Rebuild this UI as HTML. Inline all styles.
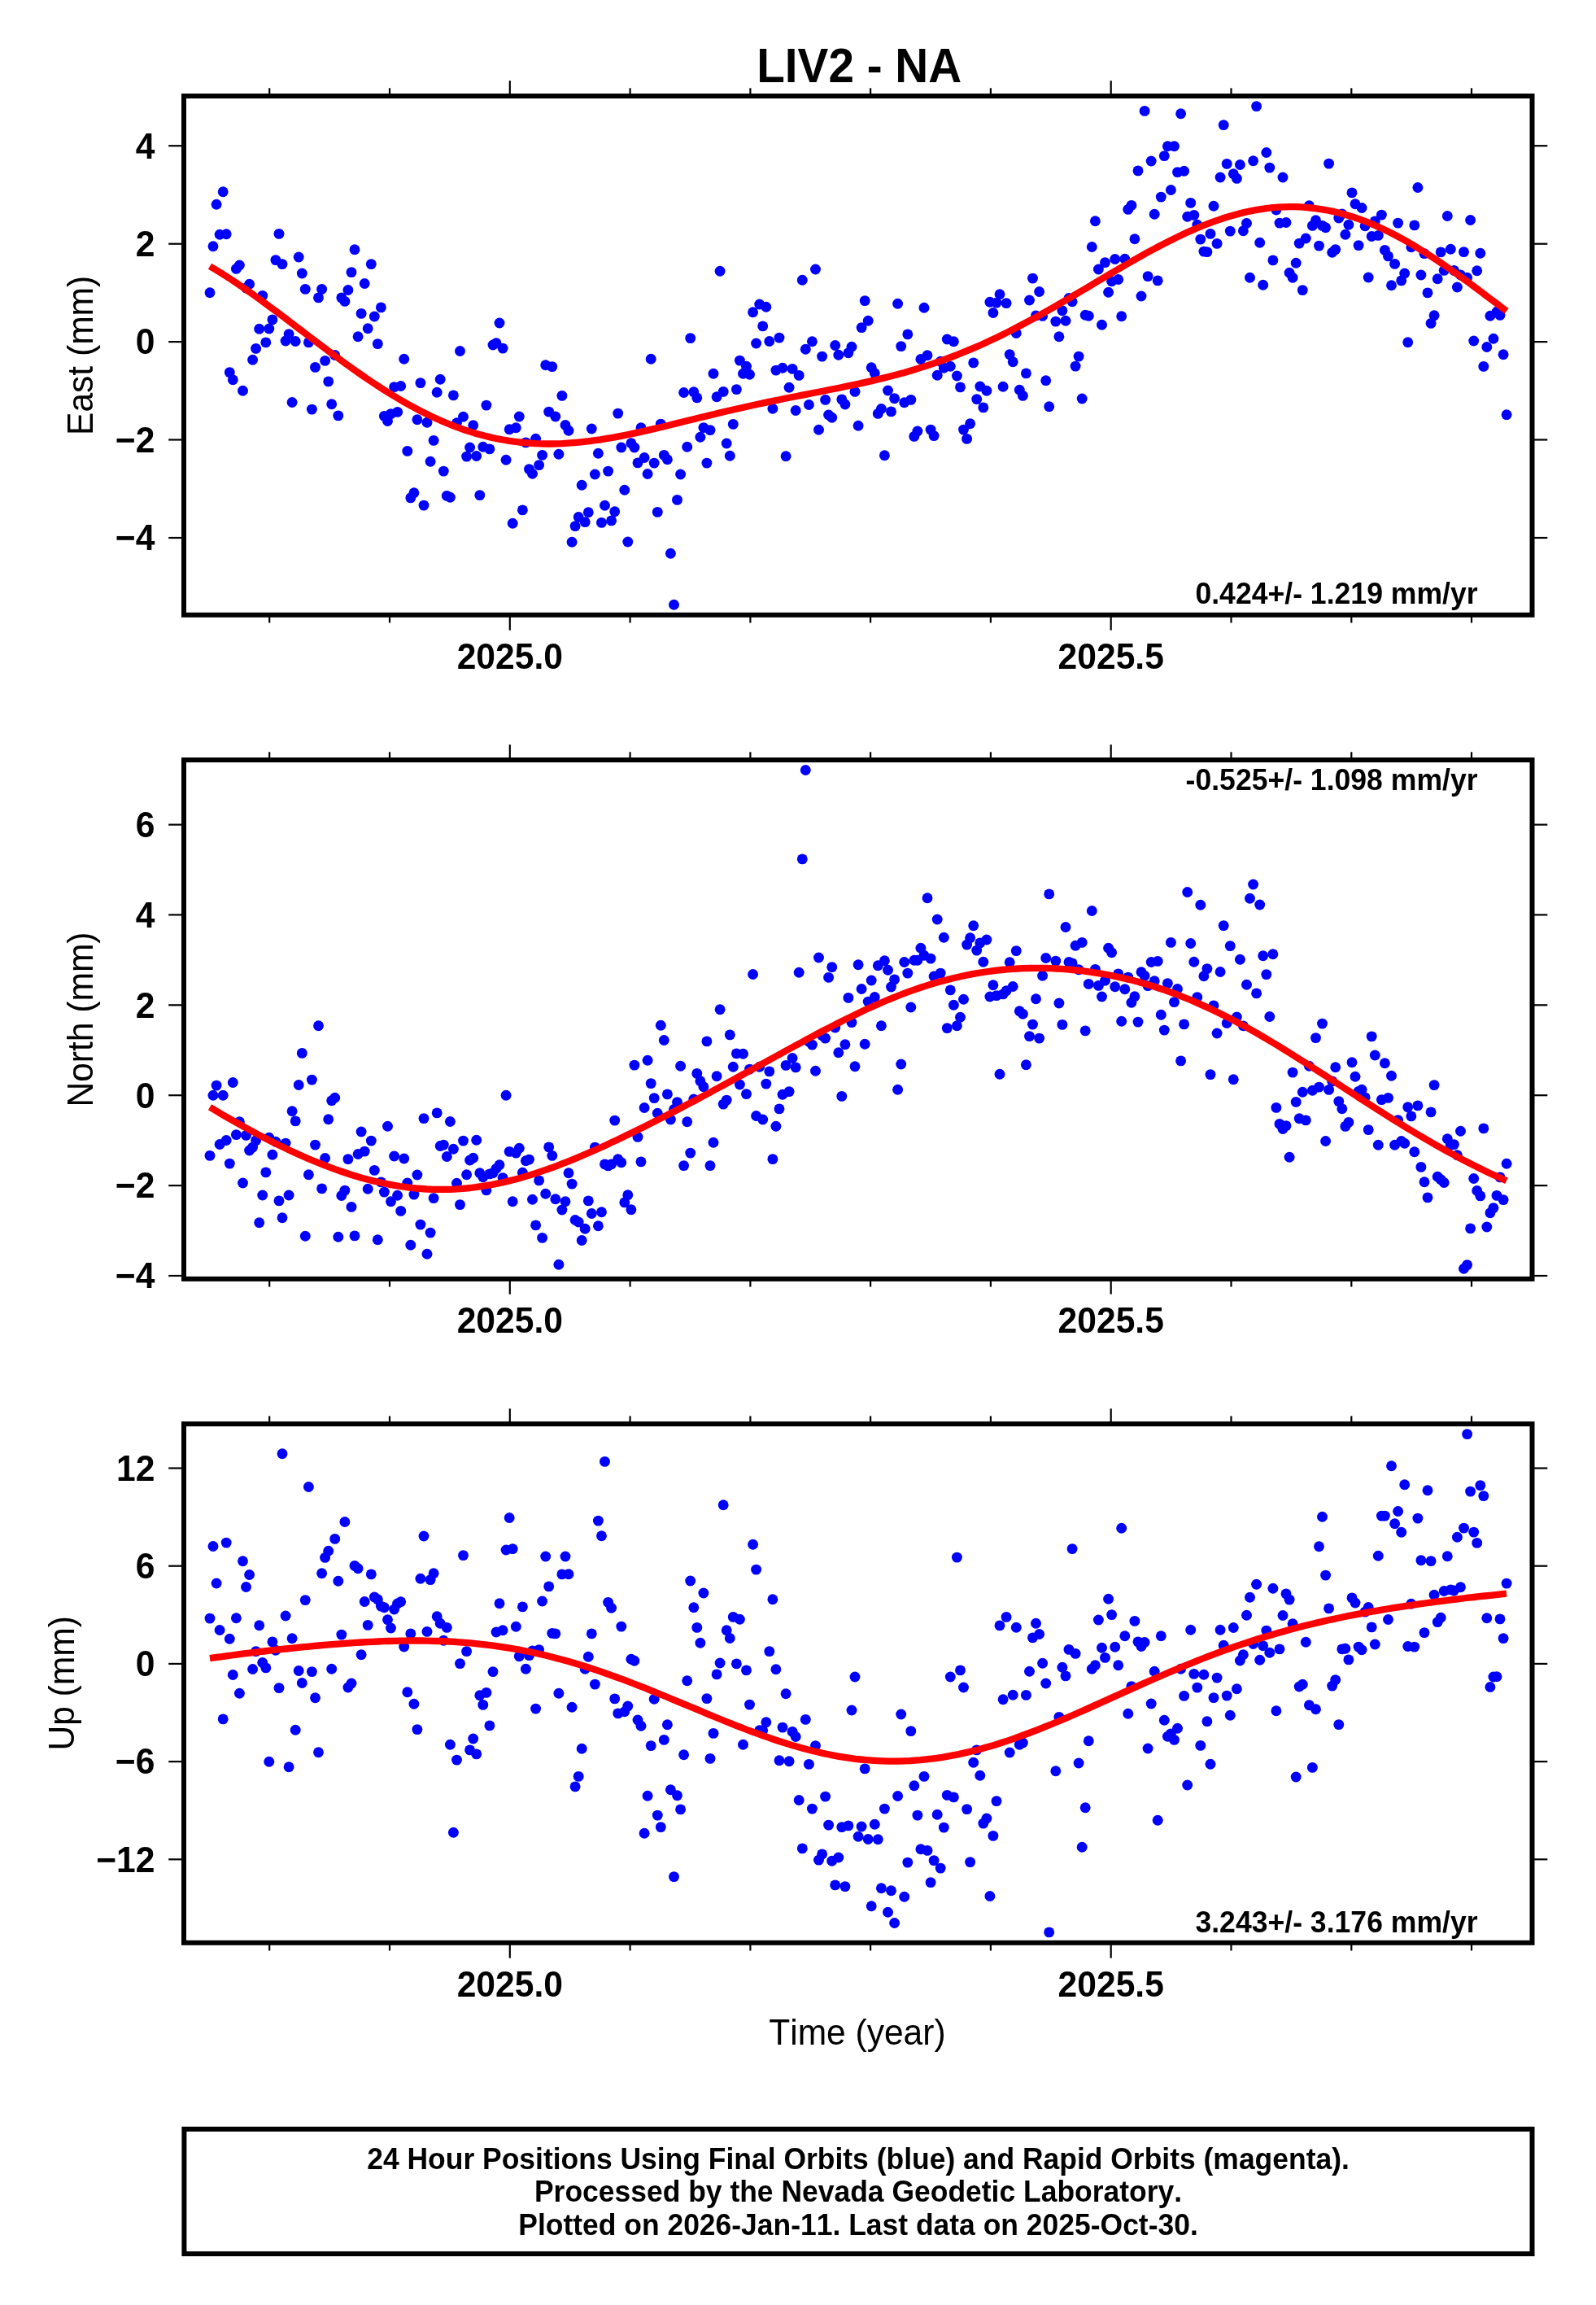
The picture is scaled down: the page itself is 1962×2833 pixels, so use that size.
<!DOCTYPE html>
<html lang="en"><head><meta charset="utf-8"><title>LIV2 - NA</title>
<style>html,body{margin:0;padding:0;background:#fff}svg{display:block;will-change:transform}text{font-family:"Liberation Sans",Arial,Helvetica,sans-serif;font-kerning:none;font-variant-ligatures:none;fill:#000}</style></head>
<body>
<svg width="1962" height="2833" viewBox="0 0 1962 2833" role="img" aria-label="LIV2 - NA time series">
<rect width="1962" height="2833" fill="#fff"/>
<text transform="translate(1056.2,101.4) scale(1,1.045)"  font-weight="bold" font-size="56.7" text-anchor="middle">LIV2 - NA</text>
<g id="panel1">
<g fill="#0000ff">
<circle cx="258.0" cy="359.8" r="6.45"/>
<circle cx="262.0" cy="302.7" r="6.45"/>
<circle cx="266.1" cy="251.3" r="6.45"/>
<circle cx="270.1" cy="288.2" r="6.45"/>
<circle cx="274.2" cy="235.8" r="6.45"/>
<circle cx="278.2" cy="287.7" r="6.45"/>
<circle cx="282.3" cy="457.6" r="6.45"/>
<circle cx="286.3" cy="466.7" r="6.45"/>
<circle cx="290.4" cy="330.4" r="6.45"/>
<circle cx="294.4" cy="326.0" r="6.45"/>
<circle cx="298.5" cy="480.3" r="6.45"/>
<circle cx="302.5" cy="354.0" r="6.45"/>
<circle cx="306.6" cy="349.3" r="6.45"/>
<circle cx="310.6" cy="442.3" r="6.45"/>
<circle cx="314.6" cy="428.4" r="6.45"/>
<circle cx="318.7" cy="404.3" r="6.45"/>
<circle cx="322.7" cy="363.4" r="6.45"/>
<circle cx="326.8" cy="420.9" r="6.45"/>
<circle cx="330.8" cy="404.0" r="6.45"/>
<circle cx="334.9" cy="392.9" r="6.45"/>
<circle cx="338.9" cy="319.6" r="6.45"/>
<circle cx="343.0" cy="287.4" r="6.45"/>
<circle cx="347.0" cy="324.6" r="6.45"/>
<circle cx="351.1" cy="419.0" r="6.45"/>
<circle cx="355.1" cy="410.6" r="6.45"/>
<circle cx="359.1" cy="494.5" r="6.45"/>
<circle cx="363.2" cy="419.5" r="6.45"/>
<circle cx="367.2" cy="316.0" r="6.45"/>
<circle cx="371.3" cy="336.0" r="6.45"/>
<circle cx="375.3" cy="355.4" r="6.45"/>
<circle cx="379.4" cy="420.9" r="6.45"/>
<circle cx="383.4" cy="503.1" r="6.45"/>
<circle cx="387.5" cy="451.4" r="6.45"/>
<circle cx="391.5" cy="365.9" r="6.45"/>
<circle cx="395.6" cy="355.4" r="6.45"/>
<circle cx="399.6" cy="443.4" r="6.45"/>
<circle cx="403.7" cy="468.9" r="6.45"/>
<circle cx="407.7" cy="496.7" r="6.45"/>
<circle cx="411.7" cy="436.5" r="6.45"/>
<circle cx="415.8" cy="510.9" r="6.45"/>
<circle cx="419.8" cy="365.9" r="6.45"/>
<circle cx="423.9" cy="370.4" r="6.45"/>
<circle cx="427.9" cy="356.5" r="6.45"/>
<circle cx="432.0" cy="334.6" r="6.45"/>
<circle cx="436.0" cy="306.8" r="6.45"/>
<circle cx="440.1" cy="413.7" r="6.45"/>
<circle cx="444.1" cy="385.4" r="6.45"/>
<circle cx="448.2" cy="348.5" r="6.45"/>
<circle cx="452.2" cy="403.7" r="6.45"/>
<circle cx="456.3" cy="324.6" r="6.45"/>
<circle cx="460.3" cy="389.0" r="6.45"/>
<circle cx="464.3" cy="422.6" r="6.45"/>
<circle cx="468.4" cy="377.9" r="6.45"/>
<circle cx="472.4" cy="511.4" r="6.45"/>
<circle cx="476.5" cy="517.5" r="6.45"/>
<circle cx="480.5" cy="508.6" r="6.45"/>
<circle cx="484.6" cy="475.6" r="6.45"/>
<circle cx="488.6" cy="506.4" r="6.45"/>
<circle cx="492.7" cy="474.5" r="6.45"/>
<circle cx="496.7" cy="441.2" r="6.45"/>
<circle cx="500.8" cy="554.4" r="6.45"/>
<circle cx="504.8" cy="611.9" r="6.45"/>
<circle cx="508.9" cy="605.8" r="6.45"/>
<circle cx="512.9" cy="515.8" r="6.45"/>
<circle cx="516.9" cy="470.6" r="6.45"/>
<circle cx="521.0" cy="621.1" r="6.45"/>
<circle cx="525.0" cy="519.2" r="6.45"/>
<circle cx="529.1" cy="567.2" r="6.45"/>
<circle cx="533.1" cy="541.4" r="6.45"/>
<circle cx="537.2" cy="482.3" r="6.45"/>
<circle cx="541.2" cy="466.2" r="6.45"/>
<circle cx="545.3" cy="579.1" r="6.45"/>
<circle cx="549.3" cy="609.4" r="6.45"/>
<circle cx="553.4" cy="611.3" r="6.45"/>
<circle cx="557.4" cy="485.9" r="6.45"/>
<circle cx="561.5" cy="519.7" r="6.45"/>
<circle cx="565.5" cy="431.5" r="6.45"/>
<circle cx="569.5" cy="512.2" r="6.45"/>
<circle cx="573.6" cy="561.1" r="6.45"/>
<circle cx="577.6" cy="550.0" r="6.45"/>
<circle cx="581.7" cy="522.8" r="6.45"/>
<circle cx="585.7" cy="560.5" r="6.45"/>
<circle cx="589.8" cy="608.6" r="6.45"/>
<circle cx="593.8" cy="549.2" r="6.45"/>
<circle cx="597.9" cy="498.1" r="6.45"/>
<circle cx="601.9" cy="551.9" r="6.45"/>
<circle cx="606.0" cy="424.0" r="6.45"/>
<circle cx="610.0" cy="421.7" r="6.45"/>
<circle cx="614.0" cy="397.0" r="6.45"/>
<circle cx="618.1" cy="428.1" r="6.45"/>
<circle cx="622.1" cy="565.3" r="6.45"/>
<circle cx="626.2" cy="527.8" r="6.45"/>
<circle cx="630.2" cy="643.3" r="6.45"/>
<circle cx="634.3" cy="525.8" r="6.45"/>
<circle cx="638.3" cy="512.0" r="6.45"/>
<circle cx="642.4" cy="626.9" r="6.45"/>
<circle cx="646.4" cy="543.9" r="6.45"/>
<circle cx="650.5" cy="576.6" r="6.45"/>
<circle cx="654.5" cy="582.2" r="6.45"/>
<circle cx="658.6" cy="539.2" r="6.45"/>
<circle cx="662.6" cy="571.6" r="6.45"/>
<circle cx="666.6" cy="559.4" r="6.45"/>
<circle cx="670.7" cy="448.7" r="6.45"/>
<circle cx="674.7" cy="506.1" r="6.45"/>
<circle cx="678.8" cy="450.6" r="6.45"/>
<circle cx="682.8" cy="512.0" r="6.45"/>
<circle cx="686.9" cy="558.3" r="6.45"/>
<circle cx="690.9" cy="486.4" r="6.45"/>
<circle cx="695.0" cy="522.5" r="6.45"/>
<circle cx="699.0" cy="529.2" r="6.45"/>
<circle cx="703.1" cy="666.3" r="6.45"/>
<circle cx="707.1" cy="646.6" r="6.45"/>
<circle cx="711.2" cy="635.5" r="6.45"/>
<circle cx="715.2" cy="596.3" r="6.45"/>
<circle cx="719.2" cy="641.6" r="6.45"/>
<circle cx="723.3" cy="629.7" r="6.45"/>
<circle cx="727.3" cy="527.0" r="6.45"/>
<circle cx="731.4" cy="583.0" r="6.45"/>
<circle cx="735.4" cy="557.2" r="6.45"/>
<circle cx="739.5" cy="642.4" r="6.45"/>
<circle cx="743.5" cy="621.3" r="6.45"/>
<circle cx="747.6" cy="579.1" r="6.45"/>
<circle cx="751.6" cy="639.9" r="6.45"/>
<circle cx="755.7" cy="628.8" r="6.45"/>
<circle cx="759.7" cy="508.1" r="6.45"/>
<circle cx="763.8" cy="550.0" r="6.45"/>
<circle cx="767.8" cy="602.2" r="6.45"/>
<circle cx="771.8" cy="666.0" r="6.45"/>
<circle cx="775.9" cy="544.7" r="6.45"/>
<circle cx="779.9" cy="550.0" r="6.45"/>
<circle cx="784.0" cy="568.9" r="6.45"/>
<circle cx="788.0" cy="525.8" r="6.45"/>
<circle cx="792.1" cy="562.5" r="6.45"/>
<circle cx="796.1" cy="582.5" r="6.45"/>
<circle cx="800.2" cy="441.2" r="6.45"/>
<circle cx="804.2" cy="569.1" r="6.45"/>
<circle cx="808.3" cy="629.4" r="6.45"/>
<circle cx="812.3" cy="521.1" r="6.45"/>
<circle cx="816.3" cy="559.4" r="6.45"/>
<circle cx="820.4" cy="564.7" r="6.45"/>
<circle cx="824.4" cy="680.2" r="6.45"/>
<circle cx="828.5" cy="743.2" r="6.45"/>
<circle cx="832.5" cy="614.4" r="6.45"/>
<circle cx="836.6" cy="583.0" r="6.45"/>
<circle cx="840.6" cy="482.5" r="6.45"/>
<circle cx="844.7" cy="549.2" r="6.45"/>
<circle cx="848.7" cy="415.6" r="6.45"/>
<circle cx="852.8" cy="481.7" r="6.45"/>
<circle cx="856.8" cy="488.9" r="6.45"/>
<circle cx="860.9" cy="537.2" r="6.45"/>
<circle cx="864.9" cy="525.6" r="6.45"/>
<circle cx="868.9" cy="569.1" r="6.45"/>
<circle cx="873.0" cy="528.6" r="6.45"/>
<circle cx="877.0" cy="459.2" r="6.45"/>
<circle cx="881.1" cy="487.8" r="6.45"/>
<circle cx="885.1" cy="333.2" r="6.45"/>
<circle cx="889.2" cy="481.4" r="6.45"/>
<circle cx="893.2" cy="545.0" r="6.45"/>
<circle cx="897.3" cy="560.3" r="6.45"/>
<circle cx="901.3" cy="521.4" r="6.45"/>
<circle cx="905.4" cy="478.6" r="6.45"/>
<circle cx="909.4" cy="443.1" r="6.45"/>
<circle cx="913.5" cy="459.2" r="6.45"/>
<circle cx="917.5" cy="450.3" r="6.45"/>
<circle cx="921.5" cy="460.3" r="6.45"/>
<circle cx="925.6" cy="383.7" r="6.45"/>
<circle cx="929.6" cy="422.0" r="6.45"/>
<circle cx="933.7" cy="374.0" r="6.45"/>
<circle cx="937.7" cy="400.9" r="6.45"/>
<circle cx="941.8" cy="377.3" r="6.45"/>
<circle cx="945.8" cy="419.5" r="6.45"/>
<circle cx="949.9" cy="502.2" r="6.45"/>
<circle cx="953.9" cy="455.1" r="6.45"/>
<circle cx="958.0" cy="415.1" r="6.45"/>
<circle cx="962.0" cy="452.3" r="6.45"/>
<circle cx="966.1" cy="560.8" r="6.45"/>
<circle cx="970.1" cy="476.2" r="6.45"/>
<circle cx="974.1" cy="453.4" r="6.45"/>
<circle cx="978.2" cy="504.5" r="6.45"/>
<circle cx="982.2" cy="461.4" r="6.45"/>
<circle cx="986.3" cy="344.3" r="6.45"/>
<circle cx="990.3" cy="429.2" r="6.45"/>
<circle cx="994.4" cy="497.5" r="6.45"/>
<circle cx="998.4" cy="419.8" r="6.45"/>
<circle cx="1002.5" cy="331.0" r="6.45"/>
<circle cx="1006.5" cy="528.3" r="6.45"/>
<circle cx="1010.6" cy="438.1" r="6.45"/>
<circle cx="1014.6" cy="491.4" r="6.45"/>
<circle cx="1018.6" cy="510.0" r="6.45"/>
<circle cx="1022.7" cy="513.3" r="6.45"/>
<circle cx="1026.7" cy="424.5" r="6.45"/>
<circle cx="1030.8" cy="436.2" r="6.45"/>
<circle cx="1034.8" cy="490.9" r="6.45"/>
<circle cx="1038.9" cy="497.0" r="6.45"/>
<circle cx="1042.9" cy="433.7" r="6.45"/>
<circle cx="1047.0" cy="426.2" r="6.45"/>
<circle cx="1051.0" cy="481.4" r="6.45"/>
<circle cx="1055.1" cy="523.3" r="6.45"/>
<circle cx="1059.1" cy="402.6" r="6.45"/>
<circle cx="1063.2" cy="369.6" r="6.45"/>
<circle cx="1067.2" cy="394.3" r="6.45"/>
<circle cx="1071.2" cy="451.7" r="6.45"/>
<circle cx="1075.3" cy="458.7" r="6.45"/>
<circle cx="1079.3" cy="508.4" r="6.45"/>
<circle cx="1083.4" cy="502.5" r="6.45"/>
<circle cx="1087.4" cy="559.7" r="6.45"/>
<circle cx="1091.5" cy="480.0" r="6.45"/>
<circle cx="1095.5" cy="505.9" r="6.45"/>
<circle cx="1099.6" cy="489.8" r="6.45"/>
<circle cx="1103.6" cy="373.2" r="6.45"/>
<circle cx="1107.7" cy="425.6" r="6.45"/>
<circle cx="1111.7" cy="494.8" r="6.45"/>
<circle cx="1115.8" cy="410.9" r="6.45"/>
<circle cx="1119.8" cy="491.4" r="6.45"/>
<circle cx="1123.8" cy="536.4" r="6.45"/>
<circle cx="1127.9" cy="530.0" r="6.45"/>
<circle cx="1131.9" cy="441.5" r="6.45"/>
<circle cx="1136.0" cy="378.2" r="6.45"/>
<circle cx="1140.0" cy="436.7" r="6.45"/>
<circle cx="1144.1" cy="528.1" r="6.45"/>
<circle cx="1148.1" cy="535.6" r="6.45"/>
<circle cx="1152.2" cy="461.2" r="6.45"/>
<circle cx="1156.2" cy="444.2" r="6.45"/>
<circle cx="1160.3" cy="452.3" r="6.45"/>
<circle cx="1164.3" cy="417.0" r="6.45"/>
<circle cx="1168.3" cy="450.3" r="6.45"/>
<circle cx="1172.4" cy="419.8" r="6.45"/>
<circle cx="1176.4" cy="462.0" r="6.45"/>
<circle cx="1180.5" cy="475.9" r="6.45"/>
<circle cx="1184.5" cy="528.1" r="6.45"/>
<circle cx="1188.6" cy="539.4" r="6.45"/>
<circle cx="1192.6" cy="520.8" r="6.45"/>
<circle cx="1196.7" cy="445.9" r="6.45"/>
<circle cx="1200.7" cy="490.6" r="6.45"/>
<circle cx="1204.8" cy="475.0" r="6.45"/>
<circle cx="1208.8" cy="500.9" r="6.45"/>
<circle cx="1212.9" cy="480.3" r="6.45"/>
<circle cx="1216.9" cy="371.2" r="6.45"/>
<circle cx="1220.9" cy="384.5" r="6.45"/>
<circle cx="1225.0" cy="372.1" r="6.45"/>
<circle cx="1229.0" cy="361.8" r="6.45"/>
<circle cx="1233.1" cy="475.3" r="6.45"/>
<circle cx="1237.1" cy="372.6" r="6.45"/>
<circle cx="1241.2" cy="435.6" r="6.45"/>
<circle cx="1245.2" cy="444.8" r="6.45"/>
<circle cx="1249.3" cy="409.5" r="6.45"/>
<circle cx="1253.3" cy="479.2" r="6.45"/>
<circle cx="1257.4" cy="486.4" r="6.45"/>
<circle cx="1261.4" cy="458.9" r="6.45"/>
<circle cx="1265.5" cy="369.0" r="6.45"/>
<circle cx="1269.5" cy="342.1" r="6.45"/>
<circle cx="1273.5" cy="387.9" r="6.45"/>
<circle cx="1277.6" cy="358.5" r="6.45"/>
<circle cx="1281.6" cy="388.4" r="6.45"/>
<circle cx="1285.7" cy="467.8" r="6.45"/>
<circle cx="1289.7" cy="499.7" r="6.45"/>
<circle cx="1297.8" cy="395.1" r="6.45"/>
<circle cx="1301.9" cy="413.7" r="6.45"/>
<circle cx="1305.9" cy="381.8" r="6.45"/>
<circle cx="1310.0" cy="394.3" r="6.45"/>
<circle cx="1314.0" cy="366.5" r="6.45"/>
<circle cx="1318.1" cy="370.7" r="6.45"/>
<circle cx="1322.1" cy="450.1" r="6.45"/>
<circle cx="1326.1" cy="438.1" r="6.45"/>
<circle cx="1330.2" cy="490.0" r="6.45"/>
<circle cx="1334.2" cy="387.3" r="6.45"/>
<circle cx="1338.3" cy="388.2" r="6.45"/>
<circle cx="1342.3" cy="303.5" r="6.45"/>
<circle cx="1346.4" cy="271.8" r="6.45"/>
<circle cx="1350.4" cy="331.0" r="6.45"/>
<circle cx="1354.5" cy="399.3" r="6.45"/>
<circle cx="1358.5" cy="322.6" r="6.45"/>
<circle cx="1362.6" cy="359.3" r="6.45"/>
<circle cx="1366.6" cy="345.7" r="6.45"/>
<circle cx="1370.7" cy="318.5" r="6.45"/>
<circle cx="1374.7" cy="343.5" r="6.45"/>
<circle cx="1378.7" cy="388.7" r="6.45"/>
<circle cx="1382.8" cy="318.2" r="6.45"/>
<circle cx="1386.8" cy="257.4" r="6.45"/>
<circle cx="1390.9" cy="252.4" r="6.45"/>
<circle cx="1394.9" cy="293.8" r="6.45"/>
<circle cx="1399.0" cy="209.9" r="6.45"/>
<circle cx="1403.0" cy="364.0" r="6.45"/>
<circle cx="1407.1" cy="136.4" r="6.45"/>
<circle cx="1411.1" cy="339.6" r="6.45"/>
<circle cx="1415.2" cy="198.0" r="6.45"/>
<circle cx="1419.2" cy="263.2" r="6.45"/>
<circle cx="1423.2" cy="344.9" r="6.45"/>
<circle cx="1427.3" cy="242.1" r="6.45"/>
<circle cx="1431.3" cy="191.6" r="6.45"/>
<circle cx="1435.4" cy="179.7" r="6.45"/>
<circle cx="1439.4" cy="233.5" r="6.45"/>
<circle cx="1443.5" cy="179.7" r="6.45"/>
<circle cx="1447.5" cy="211.6" r="6.45"/>
<circle cx="1451.6" cy="139.7" r="6.45"/>
<circle cx="1455.6" cy="210.2" r="6.45"/>
<circle cx="1459.7" cy="266.3" r="6.45"/>
<circle cx="1463.7" cy="249.4" r="6.45"/>
<circle cx="1467.8" cy="264.4" r="6.45"/>
<circle cx="1471.8" cy="276.3" r="6.45"/>
<circle cx="1475.8" cy="294.1" r="6.45"/>
<circle cx="1479.9" cy="309.1" r="6.45"/>
<circle cx="1483.9" cy="309.6" r="6.45"/>
<circle cx="1488.0" cy="287.4" r="6.45"/>
<circle cx="1492.0" cy="253.3" r="6.45"/>
<circle cx="1496.1" cy="299.4" r="6.45"/>
<circle cx="1500.1" cy="218.0" r="6.45"/>
<circle cx="1504.2" cy="153.6" r="6.45"/>
<circle cx="1508.2" cy="201.4" r="6.45"/>
<circle cx="1512.3" cy="284.1" r="6.45"/>
<circle cx="1516.3" cy="213.8" r="6.45"/>
<circle cx="1520.4" cy="219.4" r="6.45"/>
<circle cx="1524.4" cy="202.5" r="6.45"/>
<circle cx="1528.4" cy="283.8" r="6.45"/>
<circle cx="1532.5" cy="274.4" r="6.45"/>
<circle cx="1536.5" cy="341.3" r="6.45"/>
<circle cx="1540.6" cy="197.7" r="6.45"/>
<circle cx="1544.6" cy="130.6" r="6.45"/>
<circle cx="1548.7" cy="298.3" r="6.45"/>
<circle cx="1552.7" cy="350.2" r="6.45"/>
<circle cx="1556.8" cy="187.5" r="6.45"/>
<circle cx="1560.8" cy="206.1" r="6.45"/>
<circle cx="1564.9" cy="319.9" r="6.45"/>
<circle cx="1568.9" cy="258.0" r="6.45"/>
<circle cx="1573.0" cy="274.1" r="6.45"/>
<circle cx="1577.0" cy="218.0" r="6.45"/>
<circle cx="1581.0" cy="273.5" r="6.45"/>
<circle cx="1585.1" cy="335.2" r="6.45"/>
<circle cx="1589.1" cy="341.3" r="6.45"/>
<circle cx="1593.2" cy="323.2" r="6.45"/>
<circle cx="1597.2" cy="299.1" r="6.45"/>
<circle cx="1601.3" cy="356.6" r="6.45"/>
<circle cx="1605.3" cy="293.0" r="6.45"/>
<circle cx="1609.4" cy="252.7" r="6.45"/>
<circle cx="1613.4" cy="277.4" r="6.45"/>
<circle cx="1617.5" cy="270.8" r="6.45"/>
<circle cx="1621.5" cy="302.1" r="6.45"/>
<circle cx="1625.5" cy="277.4" r="6.45"/>
<circle cx="1629.6" cy="279.7" r="6.45"/>
<circle cx="1633.6" cy="201.1" r="6.45"/>
<circle cx="1637.7" cy="310.2" r="6.45"/>
<circle cx="1641.7" cy="306.6" r="6.45"/>
<circle cx="1645.8" cy="268.0" r="6.45"/>
<circle cx="1649.8" cy="263.0" r="6.45"/>
<circle cx="1653.9" cy="288.3" r="6.45"/>
<circle cx="1657.9" cy="276.3" r="6.45"/>
<circle cx="1662.0" cy="236.9" r="6.45"/>
<circle cx="1666.0" cy="250.8" r="6.45"/>
<circle cx="1670.1" cy="301.6" r="6.45"/>
<circle cx="1674.1" cy="255.5" r="6.45"/>
<circle cx="1678.1" cy="277.7" r="6.45"/>
<circle cx="1682.2" cy="341.0" r="6.45"/>
<circle cx="1686.2" cy="290.5" r="6.45"/>
<circle cx="1690.3" cy="271.9" r="6.45"/>
<circle cx="1694.3" cy="289.4" r="6.45"/>
<circle cx="1698.4" cy="264.1" r="6.45"/>
<circle cx="1702.4" cy="307.4" r="6.45"/>
<circle cx="1706.5" cy="314.9" r="6.45"/>
<circle cx="1710.5" cy="350.7" r="6.45"/>
<circle cx="1714.6" cy="324.4" r="6.45"/>
<circle cx="1718.6" cy="274.1" r="6.45"/>
<circle cx="1722.7" cy="344.9" r="6.45"/>
<circle cx="1726.7" cy="336.0" r="6.45"/>
<circle cx="1730.7" cy="420.7" r="6.45"/>
<circle cx="1734.8" cy="303.8" r="6.45"/>
<circle cx="1738.8" cy="276.9" r="6.45"/>
<circle cx="1742.9" cy="230.5" r="6.45"/>
<circle cx="1746.9" cy="338.0" r="6.45"/>
<circle cx="1751.0" cy="311.6" r="6.45"/>
<circle cx="1755.0" cy="359.9" r="6.45"/>
<circle cx="1759.1" cy="397.4" r="6.45"/>
<circle cx="1763.1" cy="387.7" r="6.45"/>
<circle cx="1767.2" cy="342.7" r="6.45"/>
<circle cx="1771.2" cy="309.9" r="6.45"/>
<circle cx="1775.2" cy="332.4" r="6.45"/>
<circle cx="1779.3" cy="265.5" r="6.45"/>
<circle cx="1783.3" cy="306.3" r="6.45"/>
<circle cx="1787.4" cy="332.4" r="6.45"/>
<circle cx="1791.4" cy="353.0" r="6.45"/>
<circle cx="1795.5" cy="338.0" r="6.45"/>
<circle cx="1799.5" cy="309.6" r="6.45"/>
<circle cx="1803.6" cy="341.3" r="6.45"/>
<circle cx="1807.6" cy="270.5" r="6.45"/>
<circle cx="1811.7" cy="419.0" r="6.45"/>
<circle cx="1815.7" cy="332.7" r="6.45"/>
<circle cx="1819.8" cy="311.3" r="6.45"/>
<circle cx="1823.8" cy="450.4" r="6.45"/>
<circle cx="1827.8" cy="426.5" r="6.45"/>
<circle cx="1831.9" cy="388.2" r="6.45"/>
<circle cx="1835.9" cy="416.3" r="6.45"/>
<circle cx="1840.0" cy="383.2" r="6.45"/>
<circle cx="1844.0" cy="387.4" r="6.45"/>
<circle cx="1848.1" cy="435.7" r="6.45"/>
<circle cx="1852.1" cy="509.8" r="6.45"/>
</g>
<polyline points="258.0,327.2 264.7,331.2 271.3,335.3 278.0,339.5 284.7,343.9 291.3,348.3 298.0,352.9 304.7,357.5 311.4,362.2 318.0,367.0 324.7,371.9 331.4,376.8 338.0,381.7 344.7,386.7 351.4,391.7 358.0,396.8 364.7,401.9 371.4,406.9 378.1,412.0 384.7,417.1 391.4,422.1 398.1,427.1 404.7,432.1 411.4,437.1 418.1,442.0 424.7,446.8 431.4,451.6 438.1,456.4 444.7,461.0 451.4,465.6 458.1,470.1 464.8,474.5 471.4,478.8 478.1,483.0 484.8,487.0 491.4,491.0 498.1,494.9 504.8,498.6 511.4,502.2 518.1,505.7 524.8,509.0 531.4,512.2 538.1,515.3 544.8,518.2 551.5,521.0 558.1,523.6 564.8,526.1 571.5,528.5 578.1,530.6 584.8,532.7 591.5,534.6 598.1,536.3 604.8,537.9 611.5,539.3 618.2,540.5 624.8,541.7 631.5,542.6 638.2,543.5 644.8,544.1 651.5,544.7 658.2,545.1 664.8,545.3 671.5,545.5 678.2,545.5 684.8,545.3 691.5,545.1 698.2,544.7 704.9,544.2 711.5,543.6 718.2,542.9 724.9,542.1 731.5,541.2 738.2,540.3 744.9,539.2 751.5,538.1 758.2,536.9 764.9,535.6 771.5,534.2 778.2,532.9 784.9,531.4 791.6,529.9 798.2,528.4 804.9,526.9 811.6,525.3 818.2,523.7 824.9,522.0 831.6,520.4 838.2,518.8 844.9,517.1 851.6,515.5 858.3,513.8 864.9,512.2 871.6,510.6 878.3,509.0 884.9,507.4 891.6,505.8 898.3,504.2 904.9,502.7 911.6,501.2 918.3,499.7 924.9,498.2 931.6,496.8 938.3,495.4 945.0,493.9 951.6,492.6 958.3,491.2 965.0,489.8 971.6,488.5 978.3,487.2 985.0,485.9 991.6,484.6 998.3,483.3 1005.0,482.0 1011.6,480.7 1018.3,479.3 1025.0,478.0 1031.7,476.7 1038.3,475.3 1045.0,473.9 1051.7,472.5 1058.3,471.1 1065.0,469.6 1071.7,468.1 1078.3,466.5 1085.0,464.9 1091.7,463.2 1098.4,461.5 1105.0,459.7 1111.7,457.9 1118.4,455.9 1125.0,454.0 1131.7,451.9 1138.4,449.8 1145.0,447.6 1151.7,445.3 1158.4,442.9 1165.0,440.5 1171.7,438.0 1178.4,435.4 1185.1,432.7 1191.7,429.9 1198.4,427.1 1205.1,424.2 1211.7,421.2 1218.4,418.1 1225.1,414.9 1231.7,411.7 1238.4,408.4 1245.1,405.0 1251.7,401.5 1258.4,398.0 1265.1,394.4 1271.8,390.8 1278.4,387.1 1285.1,383.4 1291.8,379.6 1298.4,375.8 1305.1,371.9 1311.8,368.0 1318.4,364.1 1325.1,360.2 1331.8,356.2 1338.5,352.3 1345.1,348.3 1351.8,344.3 1358.5,340.4 1365.1,336.4 1371.8,332.5 1378.5,328.6 1385.1,324.7 1391.8,320.9 1398.5,317.1 1405.1,313.4 1411.8,309.7 1418.5,306.1 1425.2,302.5 1431.8,299.1 1438.5,295.7 1445.2,292.4 1451.8,289.2 1458.5,286.1 1465.2,283.1 1471.8,280.3 1478.5,277.5 1485.2,274.9 1491.8,272.4 1498.5,270.1 1505.2,267.8 1511.9,265.8 1518.5,263.9 1525.2,262.1 1531.9,260.5 1538.5,259.1 1545.2,257.9 1551.9,256.8 1558.5,255.9 1565.2,255.2 1571.9,254.7 1578.6,254.3 1585.2,254.2 1591.9,254.2 1598.6,254.4 1605.2,254.8 1611.9,255.5 1618.6,256.3 1625.2,257.3 1631.9,258.5 1638.6,259.9 1645.2,261.5 1651.9,263.2 1658.6,265.2 1665.3,267.3 1671.9,269.7 1678.6,272.2 1685.3,274.9 1691.9,277.7 1698.6,280.8 1705.3,283.9 1711.9,287.3 1718.6,290.8 1725.3,294.4 1731.9,298.2 1738.6,302.1 1745.3,306.2 1752.0,310.4 1758.6,314.7 1765.3,319.0 1772.0,323.5 1778.6,328.1 1785.3,332.8 1792.0,337.5 1798.6,342.4 1805.3,347.2 1812.0,352.2 1818.7,357.1 1825.3,362.1 1832.0,367.2 1838.7,372.2 1845.3,377.3 1852.0,382.4" fill="none" stroke="#ff0000" stroke-width="8.3" stroke-linejoin="round"/>
<g stroke="#000" stroke-width="2.2">
<line x1="331.2" x2="331.2" y1="118.0" y2="108.3"/>
<line x1="331.2" x2="331.2" y1="755.8" y2="765.5"/>
<line x1="479.0" x2="479.0" y1="118.0" y2="108.3"/>
<line x1="479.0" x2="479.0" y1="755.8" y2="765.5"/>
<line x1="626.8" x2="626.8" y1="118.0" y2="99.2"/>
<line x1="626.8" x2="626.8" y1="755.8" y2="774.6"/>
<line x1="774.6" x2="774.6" y1="118.0" y2="108.3"/>
<line x1="774.6" x2="774.6" y1="755.8" y2="765.5"/>
<line x1="922.4" x2="922.4" y1="118.0" y2="108.3"/>
<line x1="922.4" x2="922.4" y1="755.8" y2="765.5"/>
<line x1="1070.1" x2="1070.1" y1="118.0" y2="108.3"/>
<line x1="1070.1" x2="1070.1" y1="755.8" y2="765.5"/>
<line x1="1217.9" x2="1217.9" y1="118.0" y2="108.3"/>
<line x1="1217.9" x2="1217.9" y1="755.8" y2="765.5"/>
<line x1="1365.7" x2="1365.7" y1="118.0" y2="99.2"/>
<line x1="1365.7" x2="1365.7" y1="755.8" y2="774.6"/>
<line x1="1513.5" x2="1513.5" y1="118.0" y2="108.3"/>
<line x1="1513.5" x2="1513.5" y1="755.8" y2="765.5"/>
<line x1="1661.3" x2="1661.3" y1="118.0" y2="108.3"/>
<line x1="1661.3" x2="1661.3" y1="755.8" y2="765.5"/>
<line x1="1809.0" x2="1809.0" y1="118.0" y2="108.3"/>
<line x1="1809.0" x2="1809.0" y1="755.8" y2="765.5"/>
<line x1="226.0" x2="207.2" y1="179.2" y2="179.2"/>
<line x1="1883.5" x2="1902.3" y1="179.2" y2="179.2"/>
<line x1="226.0" x2="207.2" y1="299.7" y2="299.7"/>
<line x1="1883.5" x2="1902.3" y1="299.7" y2="299.7"/>
<line x1="226.0" x2="207.2" y1="420.1" y2="420.1"/>
<line x1="1883.5" x2="1902.3" y1="420.1" y2="420.1"/>
<line x1="226.0" x2="207.2" y1="540.5" y2="540.5"/>
<line x1="1883.5" x2="1902.3" y1="540.5" y2="540.5"/>
<line x1="226.0" x2="207.2" y1="661.0" y2="661.0"/>
<line x1="1883.5" x2="1902.3" y1="661.0" y2="661.0"/>
</g>
<rect x="226.0" y="118.0" width="1657.5" height="637.8" fill="none" stroke="#000" stroke-width="6.0"/>
<g  font-weight="bold" font-size="42.6" text-anchor="end">
<text transform="translate(190.4,194.5) scale(1,1.045)">4</text>
<text transform="translate(190.4,315.0) scale(1,1.045)">2</text>
<text transform="translate(190.4,435.4) scale(1,1.045)">0</text>
<text transform="translate(190.4,555.8) scale(1,1.045)">−2</text>
<text transform="translate(190.4,676.3) scale(1,1.045)">−4</text>
</g>
<g  font-weight="bold" font-size="42.6" text-anchor="middle">
<text transform="translate(626.8,822.0) scale(1,1.045)">2025.0</text>
<text transform="translate(1365.7,822.0) scale(1,1.045)">2025.5</text>
</g>
<text transform="translate(113.9,436.9) rotate(-90) scale(1,1.045)"  font-size="42.55" text-anchor="middle">East (mm)</text>
<text transform="translate(1816.6,742.2) scale(1,1.045)"  font-weight="bold" font-size="35.6" text-anchor="end">0.424+/- 1.219 mm/yr</text>
</g>
<g id="panel2">
<g fill="#0000ff">
<circle cx="258.0" cy="1420.4" r="6.45"/>
<circle cx="262.0" cy="1346.3" r="6.45"/>
<circle cx="266.1" cy="1334.1" r="6.45"/>
<circle cx="270.1" cy="1406.5" r="6.45"/>
<circle cx="274.2" cy="1346.3" r="6.45"/>
<circle cx="278.2" cy="1401.5" r="6.45"/>
<circle cx="282.3" cy="1430.1" r="6.45"/>
<circle cx="286.3" cy="1330.5" r="6.45"/>
<circle cx="290.4" cy="1394.6" r="6.45"/>
<circle cx="294.4" cy="1378.8" r="6.45"/>
<circle cx="298.5" cy="1454.0" r="6.45"/>
<circle cx="302.5" cy="1395.4" r="6.45"/>
<circle cx="306.6" cy="1414.0" r="6.45"/>
<circle cx="310.6" cy="1410.1" r="6.45"/>
<circle cx="314.6" cy="1401.8" r="6.45"/>
<circle cx="318.7" cy="1502.8" r="6.45"/>
<circle cx="322.7" cy="1469.0" r="6.45"/>
<circle cx="326.8" cy="1440.9" r="6.45"/>
<circle cx="330.8" cy="1398.2" r="6.45"/>
<circle cx="334.9" cy="1419.3" r="6.45"/>
<circle cx="338.9" cy="1403.2" r="6.45"/>
<circle cx="343.0" cy="1475.9" r="6.45"/>
<circle cx="347.0" cy="1496.7" r="6.45"/>
<circle cx="351.1" cy="1405.1" r="6.45"/>
<circle cx="355.1" cy="1469.0" r="6.45"/>
<circle cx="359.1" cy="1365.7" r="6.45"/>
<circle cx="363.2" cy="1377.9" r="6.45"/>
<circle cx="367.2" cy="1333.5" r="6.45"/>
<circle cx="371.3" cy="1294.4" r="6.45"/>
<circle cx="375.3" cy="1519.2" r="6.45"/>
<circle cx="379.4" cy="1443.7" r="6.45"/>
<circle cx="383.4" cy="1327.1" r="6.45"/>
<circle cx="387.5" cy="1407.1" r="6.45"/>
<circle cx="391.5" cy="1260.8" r="6.45"/>
<circle cx="395.6" cy="1460.9" r="6.45"/>
<circle cx="399.6" cy="1423.5" r="6.45"/>
<circle cx="403.7" cy="1375.7" r="6.45"/>
<circle cx="407.7" cy="1352.7" r="6.45"/>
<circle cx="411.7" cy="1349.3" r="6.45"/>
<circle cx="415.8" cy="1520.3" r="6.45"/>
<circle cx="419.8" cy="1469.5" r="6.45"/>
<circle cx="423.9" cy="1463.1" r="6.45"/>
<circle cx="427.9" cy="1424.6" r="6.45"/>
<circle cx="432.0" cy="1483.4" r="6.45"/>
<circle cx="436.0" cy="1518.9" r="6.45"/>
<circle cx="440.1" cy="1418.5" r="6.45"/>
<circle cx="444.1" cy="1391.0" r="6.45"/>
<circle cx="448.2" cy="1415.1" r="6.45"/>
<circle cx="452.2" cy="1461.2" r="6.45"/>
<circle cx="456.3" cy="1402.1" r="6.45"/>
<circle cx="460.3" cy="1438.4" r="6.45"/>
<circle cx="464.3" cy="1523.7" r="6.45"/>
<circle cx="468.4" cy="1452.9" r="6.45"/>
<circle cx="472.4" cy="1465.1" r="6.45"/>
<circle cx="476.5" cy="1384.3" r="6.45"/>
<circle cx="480.5" cy="1476.8" r="6.45"/>
<circle cx="484.6" cy="1421.0" r="6.45"/>
<circle cx="488.6" cy="1469.3" r="6.45"/>
<circle cx="492.7" cy="1488.4" r="6.45"/>
<circle cx="496.7" cy="1424.0" r="6.45"/>
<circle cx="500.8" cy="1454.0" r="6.45"/>
<circle cx="504.8" cy="1530.3" r="6.45"/>
<circle cx="508.9" cy="1468.1" r="6.45"/>
<circle cx="512.9" cy="1444.0" r="6.45"/>
<circle cx="516.9" cy="1505.1" r="6.45"/>
<circle cx="521.0" cy="1374.6" r="6.45"/>
<circle cx="525.0" cy="1541.2" r="6.45"/>
<circle cx="529.1" cy="1515.1" r="6.45"/>
<circle cx="533.1" cy="1472.6" r="6.45"/>
<circle cx="537.2" cy="1367.9" r="6.45"/>
<circle cx="541.2" cy="1408.5" r="6.45"/>
<circle cx="545.3" cy="1407.1" r="6.45"/>
<circle cx="549.3" cy="1421.5" r="6.45"/>
<circle cx="553.4" cy="1378.5" r="6.45"/>
<circle cx="557.4" cy="1412.3" r="6.45"/>
<circle cx="561.5" cy="1454.3" r="6.45"/>
<circle cx="565.5" cy="1480.6" r="6.45"/>
<circle cx="569.5" cy="1402.1" r="6.45"/>
<circle cx="573.6" cy="1443.7" r="6.45"/>
<circle cx="577.6" cy="1426.0" r="6.45"/>
<circle cx="581.7" cy="1423.2" r="6.45"/>
<circle cx="585.7" cy="1401.2" r="6.45"/>
<circle cx="589.8" cy="1441.8" r="6.45"/>
<circle cx="593.8" cy="1446.8" r="6.45"/>
<circle cx="597.9" cy="1462.9" r="6.45"/>
<circle cx="601.9" cy="1442.9" r="6.45"/>
<circle cx="606.0" cy="1441.8" r="6.45"/>
<circle cx="610.0" cy="1436.2" r="6.45"/>
<circle cx="614.0" cy="1431.8" r="6.45"/>
<circle cx="618.1" cy="1447.6" r="6.45"/>
<circle cx="622.1" cy="1346.3" r="6.45"/>
<circle cx="626.2" cy="1415.4" r="6.45"/>
<circle cx="630.2" cy="1476.8" r="6.45"/>
<circle cx="634.3" cy="1417.1" r="6.45"/>
<circle cx="638.3" cy="1411.2" r="6.45"/>
<circle cx="642.4" cy="1441.2" r="6.45"/>
<circle cx="646.4" cy="1426.8" r="6.45"/>
<circle cx="650.5" cy="1425.1" r="6.45"/>
<circle cx="654.5" cy="1474.3" r="6.45"/>
<circle cx="658.6" cy="1505.9" r="6.45"/>
<circle cx="662.6" cy="1450.9" r="6.45"/>
<circle cx="666.6" cy="1521.4" r="6.45"/>
<circle cx="670.7" cy="1467.3" r="6.45"/>
<circle cx="674.7" cy="1409.9" r="6.45"/>
<circle cx="678.8" cy="1420.4" r="6.45"/>
<circle cx="682.8" cy="1473.7" r="6.45"/>
<circle cx="686.9" cy="1554.2" r="6.45"/>
<circle cx="690.9" cy="1487.0" r="6.45"/>
<circle cx="695.0" cy="1476.8" r="6.45"/>
<circle cx="699.0" cy="1441.8" r="6.45"/>
<circle cx="703.1" cy="1455.1" r="6.45"/>
<circle cx="707.1" cy="1499.5" r="6.45"/>
<circle cx="711.2" cy="1502.0" r="6.45"/>
<circle cx="715.2" cy="1524.5" r="6.45"/>
<circle cx="719.2" cy="1510.3" r="6.45"/>
<circle cx="723.3" cy="1475.9" r="6.45"/>
<circle cx="727.3" cy="1491.5" r="6.45"/>
<circle cx="731.4" cy="1410.1" r="6.45"/>
<circle cx="735.4" cy="1506.7" r="6.45"/>
<circle cx="739.5" cy="1489.8" r="6.45"/>
<circle cx="743.5" cy="1430.9" r="6.45"/>
<circle cx="747.6" cy="1432.9" r="6.45"/>
<circle cx="751.6" cy="1430.9" r="6.45"/>
<circle cx="755.7" cy="1377.1" r="6.45"/>
<circle cx="759.7" cy="1424.8" r="6.45"/>
<circle cx="763.8" cy="1428.7" r="6.45"/>
<circle cx="767.8" cy="1477.9" r="6.45"/>
<circle cx="771.8" cy="1468.7" r="6.45"/>
<circle cx="775.9" cy="1486.7" r="6.45"/>
<circle cx="779.9" cy="1309.1" r="6.45"/>
<circle cx="784.0" cy="1397.4" r="6.45"/>
<circle cx="788.0" cy="1427.9" r="6.45"/>
<circle cx="792.1" cy="1361.5" r="6.45"/>
<circle cx="796.1" cy="1303.3" r="6.45"/>
<circle cx="800.2" cy="1331.6" r="6.45"/>
<circle cx="804.2" cy="1349.6" r="6.45"/>
<circle cx="808.3" cy="1368.2" r="6.45"/>
<circle cx="812.3" cy="1260.2" r="6.45"/>
<circle cx="816.3" cy="1278.5" r="6.45"/>
<circle cx="820.4" cy="1344.9" r="6.45"/>
<circle cx="824.4" cy="1376.0" r="6.45"/>
<circle cx="828.5" cy="1363.5" r="6.45"/>
<circle cx="832.5" cy="1354.6" r="6.45"/>
<circle cx="836.6" cy="1310.2" r="6.45"/>
<circle cx="840.6" cy="1432.6" r="6.45"/>
<circle cx="844.7" cy="1378.8" r="6.45"/>
<circle cx="848.7" cy="1417.1" r="6.45"/>
<circle cx="852.8" cy="1351.0" r="6.45"/>
<circle cx="856.8" cy="1319.4" r="6.45"/>
<circle cx="860.9" cy="1328.8" r="6.45"/>
<circle cx="864.9" cy="1335.7" r="6.45"/>
<circle cx="868.9" cy="1279.9" r="6.45"/>
<circle cx="873.0" cy="1432.6" r="6.45"/>
<circle cx="877.0" cy="1404.3" r="6.45"/>
<circle cx="881.1" cy="1322.7" r="6.45"/>
<circle cx="885.1" cy="1240.8" r="6.45"/>
<circle cx="889.2" cy="1357.1" r="6.45"/>
<circle cx="893.2" cy="1352.1" r="6.45"/>
<circle cx="897.3" cy="1271.9" r="6.45"/>
<circle cx="901.3" cy="1311.3" r="6.45"/>
<circle cx="905.4" cy="1294.9" r="6.45"/>
<circle cx="909.4" cy="1333.0" r="6.45"/>
<circle cx="913.5" cy="1295.2" r="6.45"/>
<circle cx="917.5" cy="1344.6" r="6.45"/>
<circle cx="921.5" cy="1314.1" r="6.45"/>
<circle cx="925.6" cy="1197.5" r="6.45"/>
<circle cx="929.6" cy="1371.5" r="6.45"/>
<circle cx="933.7" cy="1311.3" r="6.45"/>
<circle cx="937.7" cy="1376.0" r="6.45"/>
<circle cx="941.8" cy="1332.1" r="6.45"/>
<circle cx="945.8" cy="1316.9" r="6.45"/>
<circle cx="949.9" cy="1424.6" r="6.45"/>
<circle cx="953.9" cy="1384.3" r="6.45"/>
<circle cx="958.0" cy="1362.9" r="6.45"/>
<circle cx="962.0" cy="1345.2" r="6.45"/>
<circle cx="966.1" cy="1309.4" r="6.45"/>
<circle cx="970.1" cy="1341.6" r="6.45"/>
<circle cx="974.1" cy="1300.5" r="6.45"/>
<circle cx="978.2" cy="1311.9" r="6.45"/>
<circle cx="982.2" cy="1195.3" r="6.45"/>
<circle cx="986.3" cy="1055.9" r="6.45"/>
<circle cx="990.3" cy="946.5" r="6.45"/>
<circle cx="994.4" cy="1280.2" r="6.45"/>
<circle cx="998.4" cy="1284.1" r="6.45"/>
<circle cx="1002.5" cy="1316.3" r="6.45"/>
<circle cx="1006.5" cy="1177.0" r="6.45"/>
<circle cx="1010.6" cy="1272.7" r="6.45"/>
<circle cx="1014.6" cy="1276.1" r="6.45"/>
<circle cx="1018.6" cy="1201.4" r="6.45"/>
<circle cx="1022.7" cy="1188.6" r="6.45"/>
<circle cx="1026.7" cy="1263.0" r="6.45"/>
<circle cx="1030.8" cy="1293.8" r="6.45"/>
<circle cx="1034.8" cy="1347.4" r="6.45"/>
<circle cx="1038.9" cy="1283.8" r="6.45"/>
<circle cx="1042.9" cy="1226.4" r="6.45"/>
<circle cx="1047.0" cy="1256.6" r="6.45"/>
<circle cx="1051.0" cy="1310.8" r="6.45"/>
<circle cx="1055.1" cy="1185.8" r="6.45"/>
<circle cx="1059.1" cy="1215.5" r="6.45"/>
<circle cx="1063.2" cy="1283.3" r="6.45"/>
<circle cx="1067.2" cy="1231.1" r="6.45"/>
<circle cx="1071.2" cy="1205.0" r="6.45"/>
<circle cx="1075.3" cy="1225.5" r="6.45"/>
<circle cx="1079.3" cy="1186.7" r="6.45"/>
<circle cx="1083.4" cy="1260.8" r="6.45"/>
<circle cx="1087.4" cy="1180.8" r="6.45"/>
<circle cx="1091.5" cy="1192.2" r="6.45"/>
<circle cx="1095.5" cy="1213.0" r="6.45"/>
<circle cx="1099.6" cy="1203.9" r="6.45"/>
<circle cx="1103.6" cy="1339.3" r="6.45"/>
<circle cx="1107.7" cy="1308.0" r="6.45"/>
<circle cx="1111.7" cy="1182.5" r="6.45"/>
<circle cx="1115.8" cy="1196.1" r="6.45"/>
<circle cx="1119.8" cy="1238.0" r="6.45"/>
<circle cx="1123.8" cy="1180.3" r="6.45"/>
<circle cx="1127.9" cy="1180.3" r="6.45"/>
<circle cx="1131.9" cy="1165.3" r="6.45"/>
<circle cx="1136.0" cy="1174.2" r="6.45"/>
<circle cx="1140.0" cy="1103.7" r="6.45"/>
<circle cx="1144.1" cy="1178.1" r="6.45"/>
<circle cx="1148.1" cy="1200.0" r="6.45"/>
<circle cx="1152.2" cy="1130.0" r="6.45"/>
<circle cx="1156.2" cy="1196.1" r="6.45"/>
<circle cx="1160.3" cy="1152.2" r="6.45"/>
<circle cx="1164.3" cy="1263.6" r="6.45"/>
<circle cx="1168.3" cy="1216.9" r="6.45"/>
<circle cx="1172.4" cy="1235.2" r="6.45"/>
<circle cx="1176.4" cy="1260.8" r="6.45"/>
<circle cx="1180.5" cy="1250.2" r="6.45"/>
<circle cx="1184.5" cy="1228.3" r="6.45"/>
<circle cx="1188.6" cy="1161.1" r="6.45"/>
<circle cx="1192.6" cy="1152.8" r="6.45"/>
<circle cx="1196.7" cy="1137.8" r="6.45"/>
<circle cx="1200.7" cy="1168.1" r="6.45"/>
<circle cx="1204.8" cy="1158.9" r="6.45"/>
<circle cx="1208.8" cy="1182.2" r="6.45"/>
<circle cx="1212.9" cy="1155.0" r="6.45"/>
<circle cx="1216.9" cy="1225.0" r="6.45"/>
<circle cx="1220.9" cy="1210.8" r="6.45"/>
<circle cx="1225.0" cy="1223.6" r="6.45"/>
<circle cx="1229.0" cy="1320.2" r="6.45"/>
<circle cx="1233.1" cy="1221.9" r="6.45"/>
<circle cx="1237.1" cy="1217.8" r="6.45"/>
<circle cx="1241.2" cy="1182.8" r="6.45"/>
<circle cx="1245.2" cy="1212.5" r="6.45"/>
<circle cx="1249.3" cy="1168.6" r="6.45"/>
<circle cx="1253.3" cy="1242.7" r="6.45"/>
<circle cx="1257.4" cy="1246.3" r="6.45"/>
<circle cx="1261.4" cy="1308.8" r="6.45"/>
<circle cx="1265.5" cy="1273.6" r="6.45"/>
<circle cx="1269.5" cy="1259.1" r="6.45"/>
<circle cx="1273.5" cy="1227.7" r="6.45"/>
<circle cx="1277.6" cy="1276.1" r="6.45"/>
<circle cx="1281.6" cy="1199.2" r="6.45"/>
<circle cx="1285.7" cy="1177.5" r="6.45"/>
<circle cx="1289.7" cy="1098.9" r="6.45"/>
<circle cx="1297.8" cy="1181.1" r="6.45"/>
<circle cx="1301.9" cy="1233.0" r="6.45"/>
<circle cx="1305.9" cy="1259.4" r="6.45"/>
<circle cx="1310.0" cy="1139.5" r="6.45"/>
<circle cx="1314.0" cy="1182.5" r="6.45"/>
<circle cx="1318.1" cy="1183.9" r="6.45"/>
<circle cx="1322.1" cy="1162.2" r="6.45"/>
<circle cx="1326.1" cy="1191.7" r="6.45"/>
<circle cx="1330.2" cy="1158.4" r="6.45"/>
<circle cx="1334.2" cy="1266.9" r="6.45"/>
<circle cx="1338.3" cy="1209.4" r="6.45"/>
<circle cx="1342.3" cy="1119.5" r="6.45"/>
<circle cx="1346.4" cy="1191.4" r="6.45"/>
<circle cx="1350.4" cy="1211.4" r="6.45"/>
<circle cx="1354.5" cy="1225.0" r="6.45"/>
<circle cx="1358.5" cy="1205.3" r="6.45"/>
<circle cx="1362.6" cy="1165.3" r="6.45"/>
<circle cx="1366.6" cy="1170.8" r="6.45"/>
<circle cx="1370.7" cy="1212.8" r="6.45"/>
<circle cx="1374.7" cy="1196.9" r="6.45"/>
<circle cx="1378.7" cy="1255.2" r="6.45"/>
<circle cx="1382.8" cy="1215.8" r="6.45"/>
<circle cx="1386.8" cy="1201.1" r="6.45"/>
<circle cx="1390.9" cy="1232.2" r="6.45"/>
<circle cx="1394.9" cy="1224.7" r="6.45"/>
<circle cx="1399.0" cy="1256.1" r="6.45"/>
<circle cx="1403.0" cy="1194.7" r="6.45"/>
<circle cx="1407.1" cy="1199.2" r="6.45"/>
<circle cx="1411.1" cy="1211.6" r="6.45"/>
<circle cx="1415.2" cy="1182.5" r="6.45"/>
<circle cx="1419.2" cy="1205.8" r="6.45"/>
<circle cx="1423.2" cy="1181.4" r="6.45"/>
<circle cx="1427.3" cy="1247.2" r="6.45"/>
<circle cx="1431.3" cy="1266.1" r="6.45"/>
<circle cx="1435.4" cy="1208.6" r="6.45"/>
<circle cx="1439.4" cy="1158.4" r="6.45"/>
<circle cx="1443.5" cy="1231.6" r="6.45"/>
<circle cx="1447.5" cy="1215.5" r="6.45"/>
<circle cx="1451.6" cy="1303.9" r="6.45"/>
<circle cx="1455.6" cy="1258.9" r="6.45"/>
<circle cx="1459.7" cy="1096.5" r="6.45"/>
<circle cx="1463.7" cy="1159.5" r="6.45"/>
<circle cx="1467.8" cy="1182.3" r="6.45"/>
<circle cx="1471.8" cy="1225.6" r="6.45"/>
<circle cx="1475.8" cy="1112.3" r="6.45"/>
<circle cx="1479.9" cy="1199.8" r="6.45"/>
<circle cx="1483.9" cy="1190.6" r="6.45"/>
<circle cx="1488.0" cy="1320.6" r="6.45"/>
<circle cx="1492.0" cy="1235.9" r="6.45"/>
<circle cx="1496.1" cy="1270.0" r="6.45"/>
<circle cx="1500.1" cy="1194.5" r="6.45"/>
<circle cx="1504.2" cy="1137.6" r="6.45"/>
<circle cx="1508.2" cy="1257.5" r="6.45"/>
<circle cx="1512.3" cy="1162.6" r="6.45"/>
<circle cx="1516.3" cy="1326.7" r="6.45"/>
<circle cx="1520.4" cy="1250.0" r="6.45"/>
<circle cx="1524.4" cy="1179.2" r="6.45"/>
<circle cx="1528.4" cy="1260.9" r="6.45"/>
<circle cx="1532.5" cy="1210.3" r="6.45"/>
<circle cx="1536.5" cy="1104.3" r="6.45"/>
<circle cx="1540.6" cy="1087.0" r="6.45"/>
<circle cx="1544.6" cy="1220.9" r="6.45"/>
<circle cx="1548.7" cy="1112.0" r="6.45"/>
<circle cx="1552.7" cy="1174.8" r="6.45"/>
<circle cx="1556.8" cy="1197.6" r="6.45"/>
<circle cx="1560.8" cy="1249.5" r="6.45"/>
<circle cx="1564.9" cy="1172.8" r="6.45"/>
<circle cx="1568.9" cy="1361.4" r="6.45"/>
<circle cx="1573.0" cy="1381.4" r="6.45"/>
<circle cx="1577.0" cy="1387.5" r="6.45"/>
<circle cx="1581.0" cy="1383.6" r="6.45"/>
<circle cx="1585.1" cy="1422.2" r="6.45"/>
<circle cx="1589.1" cy="1318.1" r="6.45"/>
<circle cx="1593.2" cy="1354.4" r="6.45"/>
<circle cx="1597.2" cy="1374.7" r="6.45"/>
<circle cx="1601.3" cy="1342.2" r="6.45"/>
<circle cx="1605.3" cy="1376.9" r="6.45"/>
<circle cx="1609.4" cy="1310.3" r="6.45"/>
<circle cx="1613.4" cy="1340.3" r="6.45"/>
<circle cx="1617.5" cy="1275.6" r="6.45"/>
<circle cx="1621.5" cy="1336.1" r="6.45"/>
<circle cx="1625.5" cy="1258.1" r="6.45"/>
<circle cx="1629.6" cy="1402.5" r="6.45"/>
<circle cx="1633.6" cy="1339.4" r="6.45"/>
<circle cx="1637.7" cy="1328.9" r="6.45"/>
<circle cx="1641.7" cy="1311.7" r="6.45"/>
<circle cx="1645.8" cy="1353.6" r="6.45"/>
<circle cx="1649.8" cy="1362.8" r="6.45"/>
<circle cx="1653.9" cy="1384.4" r="6.45"/>
<circle cx="1657.9" cy="1379.4" r="6.45"/>
<circle cx="1662.0" cy="1305.8" r="6.45"/>
<circle cx="1666.0" cy="1323.3" r="6.45"/>
<circle cx="1670.1" cy="1341.4" r="6.45"/>
<circle cx="1674.1" cy="1339.2" r="6.45"/>
<circle cx="1678.1" cy="1348.9" r="6.45"/>
<circle cx="1682.2" cy="1388.6" r="6.45"/>
<circle cx="1686.2" cy="1273.9" r="6.45"/>
<circle cx="1690.3" cy="1297.0" r="6.45"/>
<circle cx="1694.3" cy="1407.2" r="6.45"/>
<circle cx="1698.4" cy="1351.6" r="6.45"/>
<circle cx="1702.4" cy="1306.7" r="6.45"/>
<circle cx="1706.5" cy="1349.4" r="6.45"/>
<circle cx="1710.5" cy="1322.2" r="6.45"/>
<circle cx="1714.6" cy="1407.2" r="6.45"/>
<circle cx="1718.6" cy="1376.6" r="6.45"/>
<circle cx="1722.7" cy="1402.5" r="6.45"/>
<circle cx="1726.7" cy="1405.2" r="6.45"/>
<circle cx="1730.7" cy="1360.8" r="6.45"/>
<circle cx="1734.8" cy="1371.9" r="6.45"/>
<circle cx="1738.8" cy="1415.8" r="6.45"/>
<circle cx="1742.9" cy="1358.9" r="6.45"/>
<circle cx="1746.9" cy="1434.4" r="6.45"/>
<circle cx="1751.0" cy="1452.7" r="6.45"/>
<circle cx="1755.0" cy="1471.9" r="6.45"/>
<circle cx="1759.1" cy="1366.9" r="6.45"/>
<circle cx="1763.1" cy="1333.6" r="6.45"/>
<circle cx="1767.2" cy="1446.3" r="6.45"/>
<circle cx="1771.2" cy="1449.7" r="6.45"/>
<circle cx="1775.2" cy="1453.5" r="6.45"/>
<circle cx="1779.3" cy="1399.7" r="6.45"/>
<circle cx="1783.3" cy="1407.2" r="6.45"/>
<circle cx="1787.4" cy="1406.6" r="6.45"/>
<circle cx="1791.4" cy="1419.7" r="6.45"/>
<circle cx="1795.5" cy="1390.2" r="6.45"/>
<circle cx="1799.5" cy="1559.3" r="6.45"/>
<circle cx="1803.6" cy="1554.6" r="6.45"/>
<circle cx="1807.6" cy="1509.9" r="6.45"/>
<circle cx="1811.7" cy="1448.5" r="6.45"/>
<circle cx="1815.7" cy="1463.5" r="6.45"/>
<circle cx="1819.8" cy="1469.9" r="6.45"/>
<circle cx="1823.8" cy="1386.9" r="6.45"/>
<circle cx="1827.8" cy="1508.0" r="6.45"/>
<circle cx="1831.9" cy="1490.8" r="6.45"/>
<circle cx="1835.9" cy="1484.6" r="6.45"/>
<circle cx="1840.0" cy="1469.4" r="6.45"/>
<circle cx="1844.0" cy="1446.9" r="6.45"/>
<circle cx="1848.1" cy="1474.6" r="6.45"/>
<circle cx="1852.1" cy="1430.2" r="6.45"/>
</g>
<polyline points="258.0,1360.7 264.7,1364.7 271.3,1368.7 278.0,1372.6 284.7,1376.4 291.3,1380.2 298.0,1383.9 304.7,1387.6 311.4,1391.2 318.0,1394.8 324.7,1398.3 331.4,1401.7 338.0,1405.1 344.7,1408.4 351.4,1411.6 358.0,1414.7 364.7,1417.8 371.4,1420.8 378.1,1423.7 384.7,1426.5 391.4,1429.2 398.1,1431.9 404.7,1434.4 411.4,1436.9 418.1,1439.2 424.7,1441.5 431.4,1443.7 438.1,1445.7 444.7,1447.7 451.4,1449.5 458.1,1451.2 464.8,1452.8 471.4,1454.3 478.1,1455.6 484.8,1456.9 491.4,1458.0 498.1,1458.9 504.8,1459.8 511.4,1460.5 518.1,1461.0 524.8,1461.5 531.4,1461.8 538.1,1461.9 544.8,1461.9 551.5,1461.8 558.1,1461.6 564.8,1461.2 571.5,1460.6 578.1,1460.0 584.8,1459.2 591.5,1458.2 598.1,1457.2 604.8,1456.0 611.5,1454.6 618.2,1453.2 624.8,1451.6 631.5,1450.0 638.2,1448.2 644.8,1446.3 651.5,1444.3 658.2,1442.1 664.8,1439.9 671.5,1437.6 678.2,1435.3 684.8,1432.8 691.5,1430.2 698.2,1427.6 704.9,1424.9 711.5,1422.2 718.2,1419.3 724.9,1416.4 731.5,1413.5 738.2,1410.5 744.9,1407.4 751.5,1404.3 758.2,1401.2 764.9,1398.0 771.5,1394.8 778.2,1391.6 784.9,1388.3 791.6,1385.0 798.2,1381.6 804.9,1378.3 811.6,1374.9 818.2,1371.4 824.9,1368.0 831.6,1364.5 838.2,1361.0 844.9,1357.5 851.6,1354.0 858.3,1350.5 864.9,1346.9 871.6,1343.3 878.3,1339.7 884.9,1336.1 891.6,1332.5 898.3,1328.8 904.9,1325.2 911.6,1321.5 918.3,1317.9 924.9,1314.2 931.6,1310.5 938.3,1306.9 945.0,1303.2 951.6,1299.5 958.3,1295.8 965.0,1292.2 971.6,1288.5 978.3,1284.9 985.0,1281.3 991.6,1277.7 998.3,1274.1 1005.0,1270.5 1011.6,1267.0 1018.3,1263.6 1025.0,1260.1 1031.7,1256.7 1038.3,1253.4 1045.0,1250.1 1051.7,1246.9 1058.3,1243.7 1065.0,1240.6 1071.7,1237.5 1078.3,1234.6 1085.0,1231.7 1091.7,1228.8 1098.4,1226.1 1105.0,1223.5 1111.7,1220.9 1118.4,1218.4 1125.0,1216.1 1131.7,1213.8 1138.4,1211.6 1145.0,1209.5 1151.7,1207.6 1158.4,1205.7 1165.0,1203.9 1171.7,1202.2 1178.4,1200.7 1185.1,1199.2 1191.7,1197.9 1198.4,1196.6 1205.1,1195.5 1211.7,1194.5 1218.4,1193.6 1225.1,1192.7 1231.7,1192.0 1238.4,1191.4 1245.1,1190.9 1251.7,1190.5 1258.4,1190.2 1265.1,1190.0 1271.8,1189.9 1278.4,1189.9 1285.1,1190.0 1291.8,1190.2 1298.4,1190.5 1305.1,1190.9 1311.8,1191.4 1318.4,1192.0 1325.1,1192.6 1331.8,1193.4 1338.5,1194.3 1345.1,1195.3 1351.8,1196.4 1358.5,1197.5 1365.1,1198.8 1371.8,1200.2 1378.5,1201.6 1385.1,1203.2 1391.8,1204.8 1398.5,1206.6 1405.1,1208.5 1411.8,1210.4 1418.5,1212.5 1425.2,1214.7 1431.8,1216.9 1438.5,1219.3 1445.2,1221.7 1451.8,1224.3 1458.5,1227.0 1465.2,1229.7 1471.8,1232.6 1478.5,1235.6 1485.2,1238.6 1491.8,1241.7 1498.5,1245.0 1505.2,1248.3 1511.9,1251.7 1518.5,1255.2 1525.2,1258.8 1531.9,1262.4 1538.5,1266.2 1545.2,1269.9 1551.9,1273.8 1558.5,1277.7 1565.2,1281.7 1571.9,1285.8 1578.6,1289.9 1585.2,1294.0 1591.9,1298.2 1598.6,1302.4 1605.2,1306.6 1611.9,1310.9 1618.6,1315.2 1625.2,1319.5 1631.9,1323.8 1638.6,1328.2 1645.2,1332.5 1651.9,1336.9 1658.6,1341.2 1665.3,1345.6 1671.9,1349.9 1678.6,1354.2 1685.3,1358.5 1691.9,1362.7 1698.6,1367.0 1705.3,1371.2 1711.9,1375.4 1718.6,1379.5 1725.3,1383.6 1731.9,1387.7 1738.6,1391.7 1745.3,1395.7 1752.0,1399.6 1758.6,1403.5 1765.3,1407.3 1772.0,1411.1 1778.6,1414.8 1785.3,1418.4 1792.0,1422.0 1798.6,1425.6 1805.3,1429.0 1812.0,1432.4 1818.7,1435.8 1825.3,1439.0 1832.0,1442.2 1838.7,1445.3 1845.3,1448.3 1852.0,1451.3" fill="none" stroke="#ff0000" stroke-width="8.3" stroke-linejoin="round"/>
<g stroke="#000" stroke-width="2.2">
<line x1="331.2" x2="331.2" y1="934.0" y2="924.3"/>
<line x1="331.2" x2="331.2" y1="1571.9" y2="1581.6"/>
<line x1="479.0" x2="479.0" y1="934.0" y2="924.3"/>
<line x1="479.0" x2="479.0" y1="1571.9" y2="1581.6"/>
<line x1="626.8" x2="626.8" y1="934.0" y2="915.2"/>
<line x1="626.8" x2="626.8" y1="1571.9" y2="1590.7"/>
<line x1="774.6" x2="774.6" y1="934.0" y2="924.3"/>
<line x1="774.6" x2="774.6" y1="1571.9" y2="1581.6"/>
<line x1="922.4" x2="922.4" y1="934.0" y2="924.3"/>
<line x1="922.4" x2="922.4" y1="1571.9" y2="1581.6"/>
<line x1="1070.1" x2="1070.1" y1="934.0" y2="924.3"/>
<line x1="1070.1" x2="1070.1" y1="1571.9" y2="1581.6"/>
<line x1="1217.9" x2="1217.9" y1="934.0" y2="924.3"/>
<line x1="1217.9" x2="1217.9" y1="1571.9" y2="1581.6"/>
<line x1="1365.7" x2="1365.7" y1="934.0" y2="915.2"/>
<line x1="1365.7" x2="1365.7" y1="1571.9" y2="1590.7"/>
<line x1="1513.5" x2="1513.5" y1="934.0" y2="924.3"/>
<line x1="1513.5" x2="1513.5" y1="1571.9" y2="1581.6"/>
<line x1="1661.3" x2="1661.3" y1="934.0" y2="924.3"/>
<line x1="1661.3" x2="1661.3" y1="1571.9" y2="1581.6"/>
<line x1="1809.0" x2="1809.0" y1="934.0" y2="924.3"/>
<line x1="1809.0" x2="1809.0" y1="1571.9" y2="1581.6"/>
<line x1="226.0" x2="207.2" y1="1013.6" y2="1013.6"/>
<line x1="1883.5" x2="1902.3" y1="1013.6" y2="1013.6"/>
<line x1="226.0" x2="207.2" y1="1124.4" y2="1124.4"/>
<line x1="1883.5" x2="1902.3" y1="1124.4" y2="1124.4"/>
<line x1="226.0" x2="207.2" y1="1235.3" y2="1235.3"/>
<line x1="1883.5" x2="1902.3" y1="1235.3" y2="1235.3"/>
<line x1="226.0" x2="207.2" y1="1346.2" y2="1346.2"/>
<line x1="1883.5" x2="1902.3" y1="1346.2" y2="1346.2"/>
<line x1="226.0" x2="207.2" y1="1457.1" y2="1457.1"/>
<line x1="1883.5" x2="1902.3" y1="1457.1" y2="1457.1"/>
<line x1="226.0" x2="207.2" y1="1568.0" y2="1568.0"/>
<line x1="1883.5" x2="1902.3" y1="1568.0" y2="1568.0"/>
</g>
<rect x="226.0" y="934.0" width="1657.5" height="637.9" fill="none" stroke="#000" stroke-width="6.0"/>
<g  font-weight="bold" font-size="42.6" text-anchor="end">
<text transform="translate(190.4,1028.9) scale(1,1.045)">6</text>
<text transform="translate(190.4,1139.7) scale(1,1.045)">4</text>
<text transform="translate(190.4,1250.6) scale(1,1.045)">2</text>
<text transform="translate(190.4,1361.5) scale(1,1.045)">0</text>
<text transform="translate(190.4,1472.4) scale(1,1.045)">−2</text>
<text transform="translate(190.4,1583.3) scale(1,1.045)">−4</text>
</g>
<g  font-weight="bold" font-size="42.6" text-anchor="middle">
<text transform="translate(626.8,1638.1) scale(1,1.045)">2025.0</text>
<text transform="translate(1365.7,1638.1) scale(1,1.045)">2025.5</text>
</g>
<text transform="translate(114.0,1253.0) rotate(-90) scale(1,1.045)"  font-size="42.55" text-anchor="middle">North (mm)</text>
<text transform="translate(1816.6,971.3) scale(1,1.045)"  font-weight="bold" font-size="35.6" text-anchor="end">-0.525+/- 1.098 mm/yr</text>
</g>
<g id="panel3">
<g fill="#0000ff">
<circle cx="258.0" cy="1989.1" r="6.45"/>
<circle cx="262.0" cy="1900.5" r="6.45"/>
<circle cx="266.1" cy="1946.0" r="6.45"/>
<circle cx="270.1" cy="2003.5" r="6.45"/>
<circle cx="274.2" cy="2112.9" r="6.45"/>
<circle cx="278.2" cy="1896.1" r="6.45"/>
<circle cx="282.3" cy="2014.3" r="6.45"/>
<circle cx="286.3" cy="2058.5" r="6.45"/>
<circle cx="290.4" cy="1988.8" r="6.45"/>
<circle cx="294.4" cy="2081.2" r="6.45"/>
<circle cx="298.5" cy="1918.8" r="6.45"/>
<circle cx="302.5" cy="1950.5" r="6.45"/>
<circle cx="306.6" cy="1935.5" r="6.45"/>
<circle cx="310.6" cy="2051.5" r="6.45"/>
<circle cx="314.6" cy="2029.6" r="6.45"/>
<circle cx="318.7" cy="1997.7" r="6.45"/>
<circle cx="322.7" cy="2043.5" r="6.45"/>
<circle cx="326.8" cy="2049.9" r="6.45"/>
<circle cx="330.8" cy="2165.3" r="6.45"/>
<circle cx="334.9" cy="2017.9" r="6.45"/>
<circle cx="338.9" cy="2028.2" r="6.45"/>
<circle cx="343.0" cy="2074.6" r="6.45"/>
<circle cx="347.0" cy="1786.7" r="6.45"/>
<circle cx="351.1" cy="1986.0" r="6.45"/>
<circle cx="355.1" cy="2171.7" r="6.45"/>
<circle cx="359.1" cy="2013.8" r="6.45"/>
<circle cx="363.2" cy="2126.2" r="6.45"/>
<circle cx="367.2" cy="2053.5" r="6.45"/>
<circle cx="371.3" cy="2068.5" r="6.45"/>
<circle cx="375.3" cy="1966.6" r="6.45"/>
<circle cx="379.4" cy="1827.5" r="6.45"/>
<circle cx="383.4" cy="2054.6" r="6.45"/>
<circle cx="387.5" cy="2086.8" r="6.45"/>
<circle cx="391.5" cy="2153.7" r="6.45"/>
<circle cx="395.6" cy="1933.8" r="6.45"/>
<circle cx="399.6" cy="1914.4" r="6.45"/>
<circle cx="403.7" cy="1906.3" r="6.45"/>
<circle cx="407.7" cy="2051.2" r="6.45"/>
<circle cx="411.7" cy="1891.4" r="6.45"/>
<circle cx="415.8" cy="1943.3" r="6.45"/>
<circle cx="419.8" cy="2009.1" r="6.45"/>
<circle cx="423.9" cy="1870.5" r="6.45"/>
<circle cx="427.9" cy="2074.0" r="6.45"/>
<circle cx="432.0" cy="2069.0" r="6.45"/>
<circle cx="436.0" cy="1924.4" r="6.45"/>
<circle cx="440.1" cy="1927.7" r="6.45"/>
<circle cx="444.1" cy="2033.8" r="6.45"/>
<circle cx="448.2" cy="1968.5" r="6.45"/>
<circle cx="452.2" cy="1997.4" r="6.45"/>
<circle cx="456.3" cy="1934.9" r="6.45"/>
<circle cx="460.3" cy="1963.0" r="6.45"/>
<circle cx="464.3" cy="1965.7" r="6.45"/>
<circle cx="468.4" cy="1974.1" r="6.45"/>
<circle cx="472.4" cy="1975.7" r="6.45"/>
<circle cx="476.5" cy="1990.7" r="6.45"/>
<circle cx="480.5" cy="2001.0" r="6.45"/>
<circle cx="484.6" cy="1978.0" r="6.45"/>
<circle cx="488.6" cy="1971.0" r="6.45"/>
<circle cx="492.7" cy="1968.8" r="6.45"/>
<circle cx="496.7" cy="2024.0" r="6.45"/>
<circle cx="500.8" cy="2079.8" r="6.45"/>
<circle cx="504.8" cy="2007.9" r="6.45"/>
<circle cx="508.9" cy="2094.3" r="6.45"/>
<circle cx="512.9" cy="2125.6" r="6.45"/>
<circle cx="516.9" cy="1940.2" r="6.45"/>
<circle cx="521.0" cy="1888.0" r="6.45"/>
<circle cx="525.0" cy="2005.4" r="6.45"/>
<circle cx="529.1" cy="1941.6" r="6.45"/>
<circle cx="533.1" cy="1933.8" r="6.45"/>
<circle cx="537.2" cy="1986.8" r="6.45"/>
<circle cx="541.2" cy="1995.2" r="6.45"/>
<circle cx="545.3" cy="2016.3" r="6.45"/>
<circle cx="549.3" cy="2000.4" r="6.45"/>
<circle cx="553.4" cy="2144.2" r="6.45"/>
<circle cx="557.4" cy="2252.2" r="6.45"/>
<circle cx="561.5" cy="2163.1" r="6.45"/>
<circle cx="565.5" cy="2044.6" r="6.45"/>
<circle cx="569.5" cy="1911.6" r="6.45"/>
<circle cx="573.6" cy="2029.6" r="6.45"/>
<circle cx="577.6" cy="2150.9" r="6.45"/>
<circle cx="581.7" cy="2137.0" r="6.45"/>
<circle cx="585.7" cy="2155.9" r="6.45"/>
<circle cx="589.8" cy="2083.7" r="6.45"/>
<circle cx="593.8" cy="2095.4" r="6.45"/>
<circle cx="597.9" cy="2080.4" r="6.45"/>
<circle cx="601.9" cy="2120.9" r="6.45"/>
<circle cx="606.0" cy="2054.6" r="6.45"/>
<circle cx="610.0" cy="2006.0" r="6.45"/>
<circle cx="614.0" cy="1970.7" r="6.45"/>
<circle cx="618.1" cy="2003.8" r="6.45"/>
<circle cx="622.1" cy="1905.0" r="6.45"/>
<circle cx="626.2" cy="1865.5" r="6.45"/>
<circle cx="630.2" cy="1903.6" r="6.45"/>
<circle cx="634.3" cy="1999.3" r="6.45"/>
<circle cx="638.3" cy="2035.7" r="6.45"/>
<circle cx="642.4" cy="1974.9" r="6.45"/>
<circle cx="646.4" cy="2051.2" r="6.45"/>
<circle cx="650.5" cy="2034.6" r="6.45"/>
<circle cx="654.5" cy="2029.0" r="6.45"/>
<circle cx="658.6" cy="2100.1" r="6.45"/>
<circle cx="662.6" cy="2027.6" r="6.45"/>
<circle cx="666.6" cy="1968.0" r="6.45"/>
<circle cx="670.7" cy="1913.0" r="6.45"/>
<circle cx="674.7" cy="1949.9" r="6.45"/>
<circle cx="678.8" cy="2007.4" r="6.45"/>
<circle cx="682.8" cy="2007.9" r="6.45"/>
<circle cx="686.9" cy="2081.2" r="6.45"/>
<circle cx="690.9" cy="1934.9" r="6.45"/>
<circle cx="695.0" cy="1913.0" r="6.45"/>
<circle cx="699.0" cy="1934.7" r="6.45"/>
<circle cx="703.1" cy="2098.2" r="6.45"/>
<circle cx="707.1" cy="2195.9" r="6.45"/>
<circle cx="711.2" cy="2183.4" r="6.45"/>
<circle cx="715.2" cy="2149.2" r="6.45"/>
<circle cx="719.2" cy="2051.2" r="6.45"/>
<circle cx="723.3" cy="2036.3" r="6.45"/>
<circle cx="727.3" cy="2007.9" r="6.45"/>
<circle cx="731.4" cy="2070.1" r="6.45"/>
<circle cx="735.4" cy="1869.1" r="6.45"/>
<circle cx="739.5" cy="1887.7" r="6.45"/>
<circle cx="743.5" cy="1796.4" r="6.45"/>
<circle cx="747.6" cy="1969.4" r="6.45"/>
<circle cx="751.6" cy="1976.3" r="6.45"/>
<circle cx="755.7" cy="2087.9" r="6.45"/>
<circle cx="759.7" cy="2105.9" r="6.45"/>
<circle cx="763.8" cy="1999.1" r="6.45"/>
<circle cx="767.8" cy="2103.7" r="6.45"/>
<circle cx="771.8" cy="2097.0" r="6.45"/>
<circle cx="775.9" cy="2039.3" r="6.45"/>
<circle cx="779.9" cy="2041.3" r="6.45"/>
<circle cx="784.0" cy="2114.0" r="6.45"/>
<circle cx="788.0" cy="2121.2" r="6.45"/>
<circle cx="792.1" cy="2253.3" r="6.45"/>
<circle cx="796.1" cy="2207.3" r="6.45"/>
<circle cx="800.2" cy="2145.6" r="6.45"/>
<circle cx="804.2" cy="2088.2" r="6.45"/>
<circle cx="808.3" cy="2231.1" r="6.45"/>
<circle cx="812.3" cy="2245.6" r="6.45"/>
<circle cx="816.3" cy="2138.4" r="6.45"/>
<circle cx="820.4" cy="2119.8" r="6.45"/>
<circle cx="824.4" cy="2199.8" r="6.45"/>
<circle cx="828.5" cy="2306.6" r="6.45"/>
<circle cx="832.5" cy="2206.7" r="6.45"/>
<circle cx="836.6" cy="2223.9" r="6.45"/>
<circle cx="840.6" cy="2156.7" r="6.45"/>
<circle cx="844.7" cy="2065.7" r="6.45"/>
<circle cx="848.7" cy="1943.0" r="6.45"/>
<circle cx="852.8" cy="1975.7" r="6.45"/>
<circle cx="856.8" cy="2000.4" r="6.45"/>
<circle cx="860.9" cy="2019.3" r="6.45"/>
<circle cx="864.9" cy="1958.0" r="6.45"/>
<circle cx="868.9" cy="2087.6" r="6.45"/>
<circle cx="873.0" cy="2161.4" r="6.45"/>
<circle cx="877.0" cy="2130.4" r="6.45"/>
<circle cx="881.1" cy="2057.9" r="6.45"/>
<circle cx="885.1" cy="2044.0" r="6.45"/>
<circle cx="889.2" cy="1849.7" r="6.45"/>
<circle cx="893.2" cy="2003.8" r="6.45"/>
<circle cx="897.3" cy="2013.5" r="6.45"/>
<circle cx="901.3" cy="1987.4" r="6.45"/>
<circle cx="905.4" cy="2044.9" r="6.45"/>
<circle cx="909.4" cy="1990.2" r="6.45"/>
<circle cx="913.5" cy="2144.2" r="6.45"/>
<circle cx="917.5" cy="2052.9" r="6.45"/>
<circle cx="921.5" cy="2095.1" r="6.45"/>
<circle cx="925.6" cy="1898.3" r="6.45"/>
<circle cx="929.6" cy="1929.1" r="6.45"/>
<circle cx="933.7" cy="2126.8" r="6.45"/>
<circle cx="937.7" cy="2126.8" r="6.45"/>
<circle cx="941.8" cy="2116.8" r="6.45"/>
<circle cx="945.8" cy="2029.6" r="6.45"/>
<circle cx="949.9" cy="1965.7" r="6.45"/>
<circle cx="953.9" cy="2051.8" r="6.45"/>
<circle cx="958.0" cy="2163.7" r="6.45"/>
<circle cx="962.0" cy="2123.1" r="6.45"/>
<circle cx="966.1" cy="2081.8" r="6.45"/>
<circle cx="970.1" cy="2164.8" r="6.45"/>
<circle cx="974.1" cy="2128.4" r="6.45"/>
<circle cx="978.2" cy="2134.5" r="6.45"/>
<circle cx="982.2" cy="2212.5" r="6.45"/>
<circle cx="986.3" cy="2271.9" r="6.45"/>
<circle cx="990.3" cy="2113.4" r="6.45"/>
<circle cx="994.4" cy="2168.4" r="6.45"/>
<circle cx="998.4" cy="2223.1" r="6.45"/>
<circle cx="1002.5" cy="2145.6" r="6.45"/>
<circle cx="1006.5" cy="2286.1" r="6.45"/>
<circle cx="1010.6" cy="2278.9" r="6.45"/>
<circle cx="1014.6" cy="2208.1" r="6.45"/>
<circle cx="1018.6" cy="2243.1" r="6.45"/>
<circle cx="1022.7" cy="2287.2" r="6.45"/>
<circle cx="1026.7" cy="2316.9" r="6.45"/>
<circle cx="1030.8" cy="2283.0" r="6.45"/>
<circle cx="1034.8" cy="2245.6" r="6.45"/>
<circle cx="1038.9" cy="2318.6" r="6.45"/>
<circle cx="1042.9" cy="2243.9" r="6.45"/>
<circle cx="1047.0" cy="2102.0" r="6.45"/>
<circle cx="1051.0" cy="2061.0" r="6.45"/>
<circle cx="1055.1" cy="2257.2" r="6.45"/>
<circle cx="1059.1" cy="2245.0" r="6.45"/>
<circle cx="1063.2" cy="2173.9" r="6.45"/>
<circle cx="1067.2" cy="2260.5" r="6.45"/>
<circle cx="1071.2" cy="2342.7" r="6.45"/>
<circle cx="1075.3" cy="2242.2" r="6.45"/>
<circle cx="1079.3" cy="2260.8" r="6.45"/>
<circle cx="1083.4" cy="2320.8" r="6.45"/>
<circle cx="1087.4" cy="2223.1" r="6.45"/>
<circle cx="1091.5" cy="2350.2" r="6.45"/>
<circle cx="1095.5" cy="2323.8" r="6.45"/>
<circle cx="1099.6" cy="2363.5" r="6.45"/>
<circle cx="1103.6" cy="2207.5" r="6.45"/>
<circle cx="1107.7" cy="2107.0" r="6.45"/>
<circle cx="1111.7" cy="2331.3" r="6.45"/>
<circle cx="1115.8" cy="2289.1" r="6.45"/>
<circle cx="1119.8" cy="2127.6" r="6.45"/>
<circle cx="1123.8" cy="2194.8" r="6.45"/>
<circle cx="1127.9" cy="2231.1" r="6.45"/>
<circle cx="1131.9" cy="2272.8" r="6.45"/>
<circle cx="1136.0" cy="2183.4" r="6.45"/>
<circle cx="1140.0" cy="2274.4" r="6.45"/>
<circle cx="1144.1" cy="2313.6" r="6.45"/>
<circle cx="1148.1" cy="2286.6" r="6.45"/>
<circle cx="1152.2" cy="2230.3" r="6.45"/>
<circle cx="1156.2" cy="2296.1" r="6.45"/>
<circle cx="1160.3" cy="2246.1" r="6.45"/>
<circle cx="1164.3" cy="2206.4" r="6.45"/>
<circle cx="1168.3" cy="2061.0" r="6.45"/>
<circle cx="1172.4" cy="2208.9" r="6.45"/>
<circle cx="1176.4" cy="1914.1" r="6.45"/>
<circle cx="1180.5" cy="2052.9" r="6.45"/>
<circle cx="1184.5" cy="2074.0" r="6.45"/>
<circle cx="1188.6" cy="2223.6" r="6.45"/>
<circle cx="1192.6" cy="2288.6" r="6.45"/>
<circle cx="1196.7" cy="2166.2" r="6.45"/>
<circle cx="1200.7" cy="2150.9" r="6.45"/>
<circle cx="1204.8" cy="2182.3" r="6.45"/>
<circle cx="1208.8" cy="2241.1" r="6.45"/>
<circle cx="1212.9" cy="2235.0" r="6.45"/>
<circle cx="1216.9" cy="2330.5" r="6.45"/>
<circle cx="1220.9" cy="2256.4" r="6.45"/>
<circle cx="1225.0" cy="2213.6" r="6.45"/>
<circle cx="1229.0" cy="1997.9" r="6.45"/>
<circle cx="1233.1" cy="2088.7" r="6.45"/>
<circle cx="1237.1" cy="1987.4" r="6.45"/>
<circle cx="1241.2" cy="2154.0" r="6.45"/>
<circle cx="1245.2" cy="2083.2" r="6.45"/>
<circle cx="1249.3" cy="2000.2" r="6.45"/>
<circle cx="1253.3" cy="2144.2" r="6.45"/>
<circle cx="1257.4" cy="2142.0" r="6.45"/>
<circle cx="1261.4" cy="2083.4" r="6.45"/>
<circle cx="1265.5" cy="2054.3" r="6.45"/>
<circle cx="1269.5" cy="2012.9" r="6.45"/>
<circle cx="1273.5" cy="1995.2" r="6.45"/>
<circle cx="1277.6" cy="2008.5" r="6.45"/>
<circle cx="1281.6" cy="2044.3" r="6.45"/>
<circle cx="1285.7" cy="2069.0" r="6.45"/>
<circle cx="1289.7" cy="2374.9" r="6.45"/>
<circle cx="1297.8" cy="2176.7" r="6.45"/>
<circle cx="1301.9" cy="2110.4" r="6.45"/>
<circle cx="1305.9" cy="2049.3" r="6.45"/>
<circle cx="1310.0" cy="2059.9" r="6.45"/>
<circle cx="1314.0" cy="2027.4" r="6.45"/>
<circle cx="1318.1" cy="1903.6" r="6.45"/>
<circle cx="1322.1" cy="2032.4" r="6.45"/>
<circle cx="1326.1" cy="2167.0" r="6.45"/>
<circle cx="1330.2" cy="2270.3" r="6.45"/>
<circle cx="1334.2" cy="2221.7" r="6.45"/>
<circle cx="1338.3" cy="2139.8" r="6.45"/>
<circle cx="1342.3" cy="2051.2" r="6.45"/>
<circle cx="1346.4" cy="2046.8" r="6.45"/>
<circle cx="1350.4" cy="1991.0" r="6.45"/>
<circle cx="1354.5" cy="2025.2" r="6.45"/>
<circle cx="1358.5" cy="2037.4" r="6.45"/>
<circle cx="1362.6" cy="1965.2" r="6.45"/>
<circle cx="1366.6" cy="1984.6" r="6.45"/>
<circle cx="1370.7" cy="2024.3" r="6.45"/>
<circle cx="1374.7" cy="2046.8" r="6.45"/>
<circle cx="1378.7" cy="1878.3" r="6.45"/>
<circle cx="1382.8" cy="2010.7" r="6.45"/>
<circle cx="1386.8" cy="2106.2" r="6.45"/>
<circle cx="1390.9" cy="2072.6" r="6.45"/>
<circle cx="1394.9" cy="1992.4" r="6.45"/>
<circle cx="1399.0" cy="2017.9" r="6.45"/>
<circle cx="1403.0" cy="2023.5" r="6.45"/>
<circle cx="1407.1" cy="2018.5" r="6.45"/>
<circle cx="1411.1" cy="2149.0" r="6.45"/>
<circle cx="1415.2" cy="2094.0" r="6.45"/>
<circle cx="1419.2" cy="2054.3" r="6.45"/>
<circle cx="1423.2" cy="2237.2" r="6.45"/>
<circle cx="1427.3" cy="2010.7" r="6.45"/>
<circle cx="1431.3" cy="2114.3" r="6.45"/>
<circle cx="1435.4" cy="2134.2" r="6.45"/>
<circle cx="1439.4" cy="2130.9" r="6.45"/>
<circle cx="1443.5" cy="2138.4" r="6.45"/>
<circle cx="1447.5" cy="2124.3" r="6.45"/>
<circle cx="1451.6" cy="2051.3" r="6.45"/>
<circle cx="1455.6" cy="2084.4" r="6.45"/>
<circle cx="1459.7" cy="2194.0" r="6.45"/>
<circle cx="1463.7" cy="2003.3" r="6.45"/>
<circle cx="1467.8" cy="2057.4" r="6.45"/>
<circle cx="1471.8" cy="2074.1" r="6.45"/>
<circle cx="1475.8" cy="2145.4" r="6.45"/>
<circle cx="1479.9" cy="2058.3" r="6.45"/>
<circle cx="1483.9" cy="2115.7" r="6.45"/>
<circle cx="1488.0" cy="2168.2" r="6.45"/>
<circle cx="1492.0" cy="2086.6" r="6.45"/>
<circle cx="1496.1" cy="2062.1" r="6.45"/>
<circle cx="1500.1" cy="2003.3" r="6.45"/>
<circle cx="1504.2" cy="2022.2" r="6.45"/>
<circle cx="1508.2" cy="2084.1" r="6.45"/>
<circle cx="1512.3" cy="2108.2" r="6.45"/>
<circle cx="1516.3" cy="2000.5" r="6.45"/>
<circle cx="1520.4" cy="2075.7" r="6.45"/>
<circle cx="1524.4" cy="2041.0" r="6.45"/>
<circle cx="1528.4" cy="2033.8" r="6.45"/>
<circle cx="1532.5" cy="1985.2" r="6.45"/>
<circle cx="1536.5" cy="1963.3" r="6.45"/>
<circle cx="1540.6" cy="2020.5" r="6.45"/>
<circle cx="1544.6" cy="1947.2" r="6.45"/>
<circle cx="1548.7" cy="2040.2" r="6.45"/>
<circle cx="1552.7" cy="2022.7" r="6.45"/>
<circle cx="1556.8" cy="2004.1" r="6.45"/>
<circle cx="1560.8" cy="2031.3" r="6.45"/>
<circle cx="1564.9" cy="1952.2" r="6.45"/>
<circle cx="1568.9" cy="2102.7" r="6.45"/>
<circle cx="1573.0" cy="2026.9" r="6.45"/>
<circle cx="1577.0" cy="1985.5" r="6.45"/>
<circle cx="1581.0" cy="1958.9" r="6.45"/>
<circle cx="1585.1" cy="1966.1" r="6.45"/>
<circle cx="1589.1" cy="1995.8" r="6.45"/>
<circle cx="1593.2" cy="2184.0" r="6.45"/>
<circle cx="1597.2" cy="2073.0" r="6.45"/>
<circle cx="1601.3" cy="2070.2" r="6.45"/>
<circle cx="1605.3" cy="2018.3" r="6.45"/>
<circle cx="1609.4" cy="2095.7" r="6.45"/>
<circle cx="1613.4" cy="2172.4" r="6.45"/>
<circle cx="1617.5" cy="2100.7" r="6.45"/>
<circle cx="1621.5" cy="1900.8" r="6.45"/>
<circle cx="1625.5" cy="1864.2" r="6.45"/>
<circle cx="1629.6" cy="1936.1" r="6.45"/>
<circle cx="1633.6" cy="1976.9" r="6.45"/>
<circle cx="1637.7" cy="2072.1" r="6.45"/>
<circle cx="1641.7" cy="2064.6" r="6.45"/>
<circle cx="1645.8" cy="2119.6" r="6.45"/>
<circle cx="1649.8" cy="2026.9" r="6.45"/>
<circle cx="1653.9" cy="2026.3" r="6.45"/>
<circle cx="1657.9" cy="2039.9" r="6.45"/>
<circle cx="1662.0" cy="1963.9" r="6.45"/>
<circle cx="1666.0" cy="1970.0" r="6.45"/>
<circle cx="1670.1" cy="2024.1" r="6.45"/>
<circle cx="1674.1" cy="2027.7" r="6.45"/>
<circle cx="1678.1" cy="1981.1" r="6.45"/>
<circle cx="1682.2" cy="1975.5" r="6.45"/>
<circle cx="1686.2" cy="1999.9" r="6.45"/>
<circle cx="1690.3" cy="2021.0" r="6.45"/>
<circle cx="1694.3" cy="1912.2" r="6.45"/>
<circle cx="1698.4" cy="1863.1" r="6.45"/>
<circle cx="1702.4" cy="1863.1" r="6.45"/>
<circle cx="1706.5" cy="1990.5" r="6.45"/>
<circle cx="1710.5" cy="1801.7" r="6.45"/>
<circle cx="1714.6" cy="1872.8" r="6.45"/>
<circle cx="1718.6" cy="1857.5" r="6.45"/>
<circle cx="1722.7" cy="1883.3" r="6.45"/>
<circle cx="1726.7" cy="1824.7" r="6.45"/>
<circle cx="1730.7" cy="2023.5" r="6.45"/>
<circle cx="1734.8" cy="1971.3" r="6.45"/>
<circle cx="1738.8" cy="2024.1" r="6.45"/>
<circle cx="1742.9" cy="1866.1" r="6.45"/>
<circle cx="1746.9" cy="1917.8" r="6.45"/>
<circle cx="1751.0" cy="2006.6" r="6.45"/>
<circle cx="1755.0" cy="1831.7" r="6.45"/>
<circle cx="1759.1" cy="1918.6" r="6.45"/>
<circle cx="1763.1" cy="1960.2" r="6.45"/>
<circle cx="1767.2" cy="1993.6" r="6.45"/>
<circle cx="1771.2" cy="1988.3" r="6.45"/>
<circle cx="1775.2" cy="1955.5" r="6.45"/>
<circle cx="1779.3" cy="1912.8" r="6.45"/>
<circle cx="1783.3" cy="1953.9" r="6.45"/>
<circle cx="1787.4" cy="1955.0" r="6.45"/>
<circle cx="1791.4" cy="1889.2" r="6.45"/>
<circle cx="1795.5" cy="1950.8" r="6.45"/>
<circle cx="1799.5" cy="1878.1" r="6.45"/>
<circle cx="1803.6" cy="1762.6" r="6.45"/>
<circle cx="1807.6" cy="1833.1" r="6.45"/>
<circle cx="1811.7" cy="1883.1" r="6.45"/>
<circle cx="1815.7" cy="1896.4" r="6.45"/>
<circle cx="1819.8" cy="1825.6" r="6.45"/>
<circle cx="1823.8" cy="1838.6" r="6.45"/>
<circle cx="1827.8" cy="1988.8" r="6.45"/>
<circle cx="1831.9" cy="2073.5" r="6.45"/>
<circle cx="1835.9" cy="2061.0" r="6.45"/>
<circle cx="1840.0" cy="2060.8" r="6.45"/>
<circle cx="1844.0" cy="1989.9" r="6.45"/>
<circle cx="1848.1" cy="2013.6" r="6.45"/>
<circle cx="1852.1" cy="1946.1" r="6.45"/>
</g>
<polyline points="258.0,2038.2 264.7,2037.2 271.3,2036.3 278.0,2035.4 284.7,2034.5 291.3,2033.6 298.0,2032.7 304.7,2031.9 311.4,2031.1 318.0,2030.2 324.7,2029.5 331.4,2028.7 338.0,2027.9 344.7,2027.2 351.4,2026.5 358.0,2025.8 364.7,2025.1 371.4,2024.4 378.1,2023.8 384.7,2023.1 391.4,2022.5 398.1,2021.9 404.7,2021.4 411.4,2020.8 418.1,2020.3 424.7,2019.8 431.4,2019.3 438.1,2018.9 444.7,2018.5 451.4,2018.1 458.1,2017.8 464.8,2017.5 471.4,2017.2 478.1,2017.0 484.8,2016.8 491.4,2016.7 498.1,2016.6 504.8,2016.5 511.4,2016.5 518.1,2016.5 524.8,2016.6 531.4,2016.8 538.1,2017.0 544.8,2017.2 551.5,2017.5 558.1,2017.9 564.8,2018.4 571.5,2018.9 578.1,2019.4 584.8,2020.1 591.5,2020.8 598.1,2021.6 604.8,2022.4 611.5,2023.3 618.2,2024.3 624.8,2025.4 631.5,2026.5 638.2,2027.7 644.8,2029.0 651.5,2030.3 658.2,2031.8 664.8,2033.3 671.5,2034.8 678.2,2036.5 684.8,2038.2 691.5,2040.0 698.2,2041.8 704.9,2043.8 711.5,2045.8 718.2,2047.8 724.9,2050.0 731.5,2052.1 738.2,2054.4 744.9,2056.7 751.5,2059.1 758.2,2061.5 764.9,2063.9 771.5,2066.4 778.2,2069.0 784.9,2071.6 791.6,2074.2 798.2,2076.9 804.9,2079.6 811.6,2082.3 818.2,2085.0 824.9,2087.8 831.6,2090.6 838.2,2093.4 844.9,2096.2 851.6,2098.9 858.3,2101.7 864.9,2104.5 871.6,2107.3 878.3,2110.0 884.9,2112.8 891.6,2115.5 898.3,2118.2 904.9,2120.8 911.6,2123.4 918.3,2126.0 924.9,2128.5 931.6,2130.9 938.3,2133.3 945.0,2135.7 951.6,2138.0 958.3,2140.2 965.0,2142.3 971.6,2144.4 978.3,2146.3 985.0,2148.2 991.6,2150.0 998.3,2151.7 1005.0,2153.3 1011.6,2154.9 1018.3,2156.3 1025.0,2157.6 1031.7,2158.8 1038.3,2159.9 1045.0,2160.9 1051.7,2161.8 1058.3,2162.5 1065.0,2163.2 1071.7,2163.7 1078.3,2164.1 1085.0,2164.4 1091.7,2164.6 1098.4,2164.6 1105.0,2164.6 1111.7,2164.4 1118.4,2164.1 1125.0,2163.6 1131.7,2163.1 1138.4,2162.4 1145.0,2161.7 1151.7,2160.8 1158.4,2159.8 1165.0,2158.6 1171.7,2157.4 1178.4,2156.1 1185.1,2154.6 1191.7,2153.1 1198.4,2151.4 1205.1,2149.7 1211.7,2147.8 1218.4,2145.9 1225.1,2143.9 1231.7,2141.8 1238.4,2139.6 1245.1,2137.3 1251.7,2134.9 1258.4,2132.5 1265.1,2130.0 1271.8,2127.5 1278.4,2124.9 1285.1,2122.2 1291.8,2119.5 1298.4,2116.7 1305.1,2113.9 1311.8,2111.1 1318.4,2108.2 1325.1,2105.3 1331.8,2102.4 1338.5,2099.4 1345.1,2096.4 1351.8,2093.4 1358.5,2090.4 1365.1,2087.4 1371.8,2084.4 1378.5,2081.4 1385.1,2078.4 1391.8,2075.4 1398.5,2072.4 1405.1,2069.4 1411.8,2066.5 1418.5,2063.5 1425.2,2060.6 1431.8,2057.7 1438.5,2054.9 1445.2,2052.1 1451.8,2049.3 1458.5,2046.5 1465.2,2043.8 1471.8,2041.1 1478.5,2038.5 1485.2,2035.9 1491.8,2033.4 1498.5,2030.9 1505.2,2028.4 1511.9,2026.0 1518.5,2023.7 1525.2,2021.4 1531.9,2019.2 1538.5,2017.0 1545.2,2014.8 1551.9,2012.7 1558.5,2010.7 1565.2,2008.7 1571.9,2006.8 1578.6,2004.9 1585.2,2003.1 1591.9,2001.3 1598.6,1999.5 1605.2,1997.8 1611.9,1996.2 1618.6,1994.6 1625.2,1993.1 1631.9,1991.5 1638.6,1990.1 1645.2,1988.7 1651.9,1987.3 1658.6,1985.9 1665.3,1984.6 1671.9,1983.4 1678.6,1982.1 1685.3,1980.9 1691.9,1979.8 1698.6,1978.6 1705.3,1977.5 1711.9,1976.4 1718.6,1975.4 1725.3,1974.4 1731.9,1973.4 1738.6,1972.4 1745.3,1971.4 1752.0,1970.5 1758.6,1969.6 1765.3,1968.7 1772.0,1967.8 1778.6,1967.0 1785.3,1966.1 1792.0,1965.3 1798.6,1964.5 1805.3,1963.7 1812.0,1963.0 1818.7,1962.2 1825.3,1961.5 1832.0,1960.8 1838.7,1960.1 1845.3,1959.4 1852.0,1958.7" fill="none" stroke="#ff0000" stroke-width="8.3" stroke-linejoin="round"/>
<g stroke="#000" stroke-width="2.2">
<line x1="331.2" x2="331.2" y1="1750.1" y2="1740.4"/>
<line x1="331.2" x2="331.2" y1="2387.8" y2="2397.5"/>
<line x1="479.0" x2="479.0" y1="1750.1" y2="1740.4"/>
<line x1="479.0" x2="479.0" y1="2387.8" y2="2397.5"/>
<line x1="626.8" x2="626.8" y1="1750.1" y2="1731.3"/>
<line x1="626.8" x2="626.8" y1="2387.8" y2="2406.6"/>
<line x1="774.6" x2="774.6" y1="1750.1" y2="1740.4"/>
<line x1="774.6" x2="774.6" y1="2387.8" y2="2397.5"/>
<line x1="922.4" x2="922.4" y1="1750.1" y2="1740.4"/>
<line x1="922.4" x2="922.4" y1="2387.8" y2="2397.5"/>
<line x1="1070.1" x2="1070.1" y1="1750.1" y2="1740.4"/>
<line x1="1070.1" x2="1070.1" y1="2387.8" y2="2397.5"/>
<line x1="1217.9" x2="1217.9" y1="1750.1" y2="1740.4"/>
<line x1="1217.9" x2="1217.9" y1="2387.8" y2="2397.5"/>
<line x1="1365.7" x2="1365.7" y1="1750.1" y2="1731.3"/>
<line x1="1365.7" x2="1365.7" y1="2387.8" y2="2406.6"/>
<line x1="1513.5" x2="1513.5" y1="1750.1" y2="1740.4"/>
<line x1="1513.5" x2="1513.5" y1="2387.8" y2="2397.5"/>
<line x1="1661.3" x2="1661.3" y1="1750.1" y2="1740.4"/>
<line x1="1661.3" x2="1661.3" y1="2387.8" y2="2397.5"/>
<line x1="1809.0" x2="1809.0" y1="1750.1" y2="1740.4"/>
<line x1="1809.0" x2="1809.0" y1="2387.8" y2="2397.5"/>
<line x1="226.0" x2="207.2" y1="1804.5" y2="1804.5"/>
<line x1="1883.5" x2="1902.3" y1="1804.5" y2="1804.5"/>
<line x1="226.0" x2="207.2" y1="1924.7" y2="1924.7"/>
<line x1="1883.5" x2="1902.3" y1="1924.7" y2="1924.7"/>
<line x1="226.0" x2="207.2" y1="2044.9" y2="2044.9"/>
<line x1="1883.5" x2="1902.3" y1="2044.9" y2="2044.9"/>
<line x1="226.0" x2="207.2" y1="2165.1" y2="2165.1"/>
<line x1="1883.5" x2="1902.3" y1="2165.1" y2="2165.1"/>
<line x1="226.0" x2="207.2" y1="2285.3" y2="2285.3"/>
<line x1="1883.5" x2="1902.3" y1="2285.3" y2="2285.3"/>
</g>
<rect x="226.0" y="1750.1" width="1657.5" height="637.7" fill="none" stroke="#000" stroke-width="6.0"/>
<g  font-weight="bold" font-size="42.6" text-anchor="end">
<text transform="translate(190.4,1819.8) scale(1,1.045)">12</text>
<text transform="translate(190.4,1940.0) scale(1,1.045)">6</text>
<text transform="translate(190.4,2060.2) scale(1,1.045)">0</text>
<text transform="translate(190.4,2180.4) scale(1,1.045)">−6</text>
<text transform="translate(190.4,2300.6) scale(1,1.045)">−12</text>
</g>
<g  font-weight="bold" font-size="42.6" text-anchor="middle">
<text transform="translate(626.8,2454.0) scale(1,1.045)">2025.0</text>
<text transform="translate(1365.7,2454.0) scale(1,1.045)">2025.5</text>
</g>
<text transform="translate(91.4,2068.9) rotate(-90) scale(1,1.045)"  font-size="42.55" text-anchor="middle">Up (mm)</text>
<text transform="translate(1816.6,2374.8) scale(1,1.045)"  font-weight="bold" font-size="35.6" text-anchor="end">3.243+/- 3.176 mm/yr</text>
</g>
<text transform="translate(1053.9,2512.9) scale(1,1.045)"  font-size="42.55" text-anchor="middle">Time (year)</text>
<rect x="226.4" y="2616.8" width="1657.1" height="153.3" fill="none" stroke="#000" stroke-width="6.0"/>
<g  font-weight="bold" font-size="35.48" text-anchor="middle">
<text transform="translate(1055.0,2665.5) scale(1,1.045)">24 Hour Positions Using Final Orbits (blue) and Rapid Orbits (magenta).</text>
<text transform="translate(1055.0,2706.2) scale(1,1.045)">Processed by the Nevada Geodetic Laboratory.</text>
<text transform="translate(1055.0,2747.0) scale(1,1.045)">Plotted on 2026-Jan-11. Last data on 2025-Oct-30.</text>
</g>
</svg>
</body></html>
